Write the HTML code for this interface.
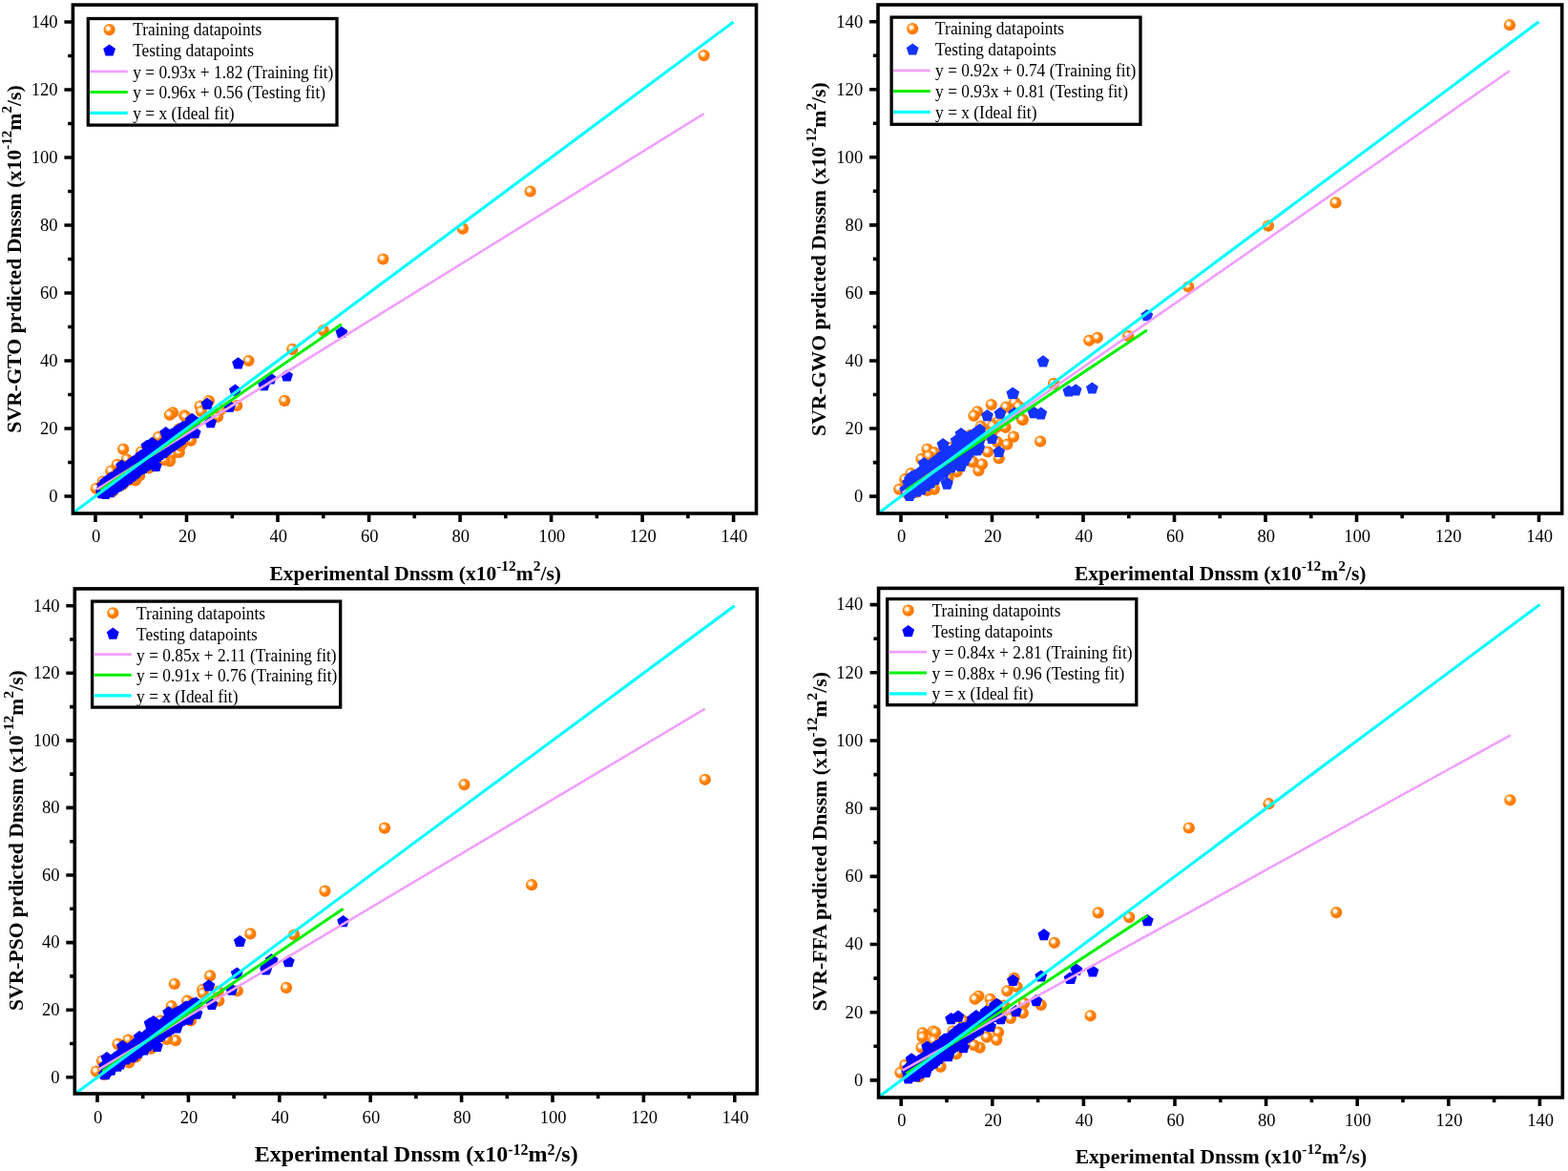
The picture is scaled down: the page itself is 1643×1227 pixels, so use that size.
<!DOCTYPE html>
<html lang="en"><head><meta charset="utf-8"><title>SVR predicted vs experimental Dnssm</title>
<style>
html,body{margin:0;padding:0;background:#fff;}
body{width:1643px;height:1227px;overflow:hidden;}
svg{display:block;font-family:"Liberation Serif", serif;}
text{fill:#000;}
.ax{fill:none;stroke:#000;stroke-width:3.6;stroke-linecap:butt;}
.tk{stroke:#000;stroke-width:3.6;fill:none;}
.tl{font-size:18px;}
.lg{font-size:17.4px;}
.at{font-weight:bold;}
</style></head><body>
<svg width="1643" height="1227" viewBox="0 0 1643 1227">
<defs>
<radialGradient id="og" cx="0.39" cy="0.39" r="0.62" fx="0.39" fy="0.39">
<stop offset="0" stop-color="#ffffff"/>
<stop offset="0.22" stop-color="#fff4e6"/>
<stop offset="0.42" stop-color="#ff9a30"/>
<stop offset="0.6" stop-color="#ff7f00"/>
<stop offset="1" stop-color="#fb7400"/>
</radialGradient>
</defs>
<rect x="0" y="0" width="1643" height="1227" fill="#ffffff"/>

<g id="panel-GTO">
<g fill="url(#og)">
<circle cx="737.6" cy="58.1" r="6.1"/>
<circle cx="555.6" cy="200.5" r="6.1"/>
<circle cx="484.9" cy="239.6" r="6.1"/>
<circle cx="401.4" cy="271.5" r="6.1"/>
<circle cx="338.8" cy="346.1" r="6.1"/>
<circle cx="306.3" cy="365.9" r="6.1"/>
<circle cx="298.2" cy="419.9" r="6.1"/>
<circle cx="260.5" cy="378.0" r="6.1"/>
<circle cx="107.2" cy="514.9" r="6.1"/>
<circle cx="110.0" cy="512.2" r="6.1"/>
<circle cx="112.9" cy="508.0" r="6.1"/>
<circle cx="115.8" cy="508.5" r="6.1"/>
<circle cx="118.6" cy="506.1" r="6.1"/>
<circle cx="121.5" cy="503.5" r="6.1"/>
<circle cx="124.4" cy="503.7" r="6.1"/>
<circle cx="127.2" cy="499.7" r="6.1"/>
<circle cx="130.1" cy="496.9" r="6.1"/>
<circle cx="133.0" cy="493.8" r="6.1"/>
<circle cx="135.8" cy="495.7" r="6.1"/>
<circle cx="138.7" cy="492.4" r="6.1"/>
<circle cx="141.6" cy="491.4" r="6.1"/>
<circle cx="144.4" cy="485.2" r="6.1"/>
<circle cx="147.3" cy="483.8" r="6.1"/>
<circle cx="150.1" cy="485.3" r="6.1"/>
<circle cx="153.0" cy="477.9" r="6.1"/>
<circle cx="155.9" cy="475.8" r="6.1"/>
<circle cx="158.7" cy="475.5" r="6.1"/>
<circle cx="161.6" cy="473.5" r="6.1"/>
<circle cx="164.5" cy="474.0" r="6.1"/>
<circle cx="167.3" cy="472.7" r="6.1"/>
<circle cx="170.2" cy="467.7" r="6.1"/>
<circle cx="173.1" cy="468.2" r="6.1"/>
<circle cx="175.9" cy="465.3" r="6.1"/>
<circle cx="178.8" cy="462.9" r="6.1"/>
<circle cx="181.7" cy="462.0" r="6.1"/>
<circle cx="184.5" cy="457.4" r="6.1"/>
<circle cx="187.4" cy="455.4" r="6.1"/>
<circle cx="190.3" cy="451.0" r="6.1"/>
<circle cx="193.1" cy="450.7" r="6.1"/>
<circle cx="196.0" cy="447.8" r="6.1"/>
<circle cx="198.9" cy="446.5" r="6.1"/>
<circle cx="201.7" cy="443.5" r="6.1"/>
<circle cx="204.6" cy="442.5" r="6.1"/>
<circle cx="129.1" cy="470.6" r="6.1"/>
<circle cx="132.8" cy="481.3" r="6.1"/>
<circle cx="122.7" cy="486.8" r="6.1"/>
<circle cx="116.3" cy="493.5" r="6.1"/>
<circle cx="107.7" cy="504.5" r="6.1"/>
<circle cx="100.7" cy="511.8" r="6.1"/>
<circle cx="117.8" cy="515.2" r="6.1"/>
<circle cx="142.0" cy="503.3" r="6.1"/>
<circle cx="146.2" cy="498.4" r="6.1"/>
<circle cx="128.5" cy="507.6" r="6.1"/>
<circle cx="136.5" cy="502.7" r="6.1"/>
<circle cx="166.1" cy="457.8" r="6.1"/>
<circle cx="148.1" cy="473.3" r="6.1"/>
<circle cx="180.5" cy="475.8" r="6.1"/>
<circle cx="178.0" cy="483.1" r="6.1"/>
<circle cx="187.8" cy="473.9" r="6.1"/>
<circle cx="172.5" cy="481.9" r="6.1"/>
<circle cx="156.0" cy="490.5" r="6.1"/>
<circle cx="189.0" cy="467.2" r="6.1"/>
<circle cx="181.0" cy="432.3" r="6.1"/>
<circle cx="177.9" cy="434.7" r="6.1"/>
<circle cx="193.2" cy="435.3" r="6.1"/>
<circle cx="194.4" cy="436.6" r="6.1"/>
<circle cx="218.9" cy="420.1" r="6.1"/>
<circle cx="209.7" cy="425.6" r="6.1"/>
<circle cx="211.0" cy="431.1" r="6.1"/>
<circle cx="248.2" cy="425.0" r="6.1"/>
<circle cx="228.1" cy="436.6" r="6.1"/>
<circle cx="231.1" cy="429.2" r="6.1"/>
<circle cx="200.0" cy="461.6" r="6.1"/>
<circle cx="191.4" cy="464.1" r="6.1"/>
<circle cx="187.7" cy="449.4" r="6.1"/>
</g>
<path fill="#0000ff" d="M357.9 341.9l6.4 4.7-2.45 7.5h-7.9l-2.45-7.5zM249.5 374.2l6.4 4.7-2.45 7.5h-7.9l-2.45-7.5zM300.6 387.4l6.4 4.7-2.45 7.5h-7.9l-2.45-7.5zM283.4 390.2l6.4 4.7-2.45 7.5h-7.9l-2.45-7.5zM276.7 397.0l6.4 4.7-2.45 7.5h-7.9l-2.45-7.5zM106.7 508.7l6.4 4.7-2.45 7.5h-7.9l-2.45-7.5zM107.6 506.0l6.4 4.7-2.45 7.5h-7.9l-2.45-7.5zM108.6 505.2l6.4 4.7-2.45 7.5h-7.9l-2.45-7.5zM109.6 510.1l6.4 4.7-2.45 7.5h-7.9l-2.45-7.5zM110.5 510.8l6.4 4.7-2.45 7.5h-7.9l-2.45-7.5zM111.5 506.2l6.4 4.7-2.45 7.5h-7.9l-2.45-7.5zM112.4 506.6l6.4 4.7-2.45 7.5h-7.9l-2.45-7.5zM113.4 500.2l6.4 4.7-2.45 7.5h-7.9l-2.45-7.5zM114.3 500.7l6.4 4.7-2.45 7.5h-7.9l-2.45-7.5zM115.3 501.0l6.4 4.7-2.45 7.5h-7.9l-2.45-7.5zM116.2 500.7l6.4 4.7-2.45 7.5h-7.9l-2.45-7.5zM117.2 498.9l6.4 4.7-2.45 7.5h-7.9l-2.45-7.5zM118.1 503.7l6.4 4.7-2.45 7.5h-7.9l-2.45-7.5zM119.1 499.8l6.4 4.7-2.45 7.5h-7.9l-2.45-7.5zM120.1 502.1l6.4 4.7-2.45 7.5h-7.9l-2.45-7.5zM121.0 493.5l6.4 4.7-2.45 7.5h-7.9l-2.45-7.5zM122.0 501.8l6.4 4.7-2.45 7.5h-7.9l-2.45-7.5zM122.9 493.0l6.4 4.7-2.45 7.5h-7.9l-2.45-7.5zM123.9 500.2l6.4 4.7-2.45 7.5h-7.9l-2.45-7.5zM124.8 492.9l6.4 4.7-2.45 7.5h-7.9l-2.45-7.5zM125.8 496.0l6.4 4.7-2.45 7.5h-7.9l-2.45-7.5zM126.7 494.5l6.4 4.7-2.45 7.5h-7.9l-2.45-7.5zM127.7 489.2l6.4 4.7-2.45 7.5h-7.9l-2.45-7.5zM128.7 497.2l6.4 4.7-2.45 7.5h-7.9l-2.45-7.5zM129.6 496.1l6.4 4.7-2.45 7.5h-7.9l-2.45-7.5zM130.6 486.3l6.4 4.7-2.45 7.5h-7.9l-2.45-7.5zM131.5 489.9l6.4 4.7-2.45 7.5h-7.9l-2.45-7.5zM132.5 493.6l6.4 4.7-2.45 7.5h-7.9l-2.45-7.5zM133.4 483.4l6.4 4.7-2.45 7.5h-7.9l-2.45-7.5zM134.4 483.1l6.4 4.7-2.45 7.5h-7.9l-2.45-7.5zM135.3 491.3l6.4 4.7-2.45 7.5h-7.9l-2.45-7.5zM136.3 487.2l6.4 4.7-2.45 7.5h-7.9l-2.45-7.5zM137.3 489.6l6.4 4.7-2.45 7.5h-7.9l-2.45-7.5zM138.2 487.0l6.4 4.7-2.45 7.5h-7.9l-2.45-7.5zM139.2 483.0l6.4 4.7-2.45 7.5h-7.9l-2.45-7.5zM140.1 487.2l6.4 4.7-2.45 7.5h-7.9l-2.45-7.5zM141.1 480.8l6.4 4.7-2.45 7.5h-7.9l-2.45-7.5zM142.0 486.9l6.4 4.7-2.45 7.5h-7.9l-2.45-7.5zM143.0 485.0l6.4 4.7-2.45 7.5h-7.9l-2.45-7.5zM143.9 477.4l6.4 4.7-2.45 7.5h-7.9l-2.45-7.5zM144.9 481.1l6.4 4.7-2.45 7.5h-7.9l-2.45-7.5zM145.8 480.2l6.4 4.7-2.45 7.5h-7.9l-2.45-7.5zM146.8 477.6l6.4 4.7-2.45 7.5h-7.9l-2.45-7.5zM147.8 478.1l6.4 4.7-2.45 7.5h-7.9l-2.45-7.5zM148.7 478.4l6.4 4.7-2.45 7.5h-7.9l-2.45-7.5zM149.7 481.5l6.4 4.7-2.45 7.5h-7.9l-2.45-7.5zM150.6 473.4l6.4 4.7-2.45 7.5h-7.9l-2.45-7.5zM151.6 470.1l6.4 4.7-2.45 7.5h-7.9l-2.45-7.5zM152.5 469.3l6.4 4.7-2.45 7.5h-7.9l-2.45-7.5zM153.5 471.9l6.4 4.7-2.45 7.5h-7.9l-2.45-7.5zM154.4 474.5l6.4 4.7-2.45 7.5h-7.9l-2.45-7.5zM155.4 473.7l6.4 4.7-2.45 7.5h-7.9l-2.45-7.5zM156.4 469.5l6.4 4.7-2.45 7.5h-7.9l-2.45-7.5zM157.3 468.9l6.4 4.7-2.45 7.5h-7.9l-2.45-7.5zM158.3 474.2l6.4 4.7-2.45 7.5h-7.9l-2.45-7.5zM159.2 472.2l6.4 4.7-2.45 7.5h-7.9l-2.45-7.5zM160.2 470.1l6.4 4.7-2.45 7.5h-7.9l-2.45-7.5zM161.1 467.8l6.4 4.7-2.45 7.5h-7.9l-2.45-7.5zM162.1 463.9l6.4 4.7-2.45 7.5h-7.9l-2.45-7.5zM163.0 466.5l6.4 4.7-2.45 7.5h-7.9l-2.45-7.5zM164.0 470.9l6.4 4.7-2.45 7.5h-7.9l-2.45-7.5zM165.0 461.7l6.4 4.7-2.45 7.5h-7.9l-2.45-7.5zM165.9 465.2l6.4 4.7-2.45 7.5h-7.9l-2.45-7.5zM166.9 463.5l6.4 4.7-2.45 7.5h-7.9l-2.45-7.5zM167.8 465.9l6.4 4.7-2.45 7.5h-7.9l-2.45-7.5zM168.8 463.1l6.4 4.7-2.45 7.5h-7.9l-2.45-7.5zM169.7 462.8l6.4 4.7-2.45 7.5h-7.9l-2.45-7.5zM170.7 458.0l6.4 4.7-2.45 7.5h-7.9l-2.45-7.5zM171.6 464.4l6.4 4.7-2.45 7.5h-7.9l-2.45-7.5zM172.6 458.9l6.4 4.7-2.45 7.5h-7.9l-2.45-7.5zM173.6 462.2l6.4 4.7-2.45 7.5h-7.9l-2.45-7.5zM174.5 455.9l6.4 4.7-2.45 7.5h-7.9l-2.45-7.5zM175.5 462.2l6.4 4.7-2.45 7.5h-7.9l-2.45-7.5zM176.4 459.0l6.4 4.7-2.45 7.5h-7.9l-2.45-7.5zM177.4 457.5l6.4 4.7-2.45 7.5h-7.9l-2.45-7.5zM178.3 453.7l6.4 4.7-2.45 7.5h-7.9l-2.45-7.5zM179.3 459.2l6.4 4.7-2.45 7.5h-7.9l-2.45-7.5zM180.2 454.2l6.4 4.7-2.45 7.5h-7.9l-2.45-7.5zM181.2 456.2l6.4 4.7-2.45 7.5h-7.9l-2.45-7.5zM182.1 454.7l6.4 4.7-2.45 7.5h-7.9l-2.45-7.5zM183.1 451.9l6.4 4.7-2.45 7.5h-7.9l-2.45-7.5zM184.1 446.0l6.4 4.7-2.45 7.5h-7.9l-2.45-7.5zM185.0 450.4l6.4 4.7-2.45 7.5h-7.9l-2.45-7.5zM186.0 444.6l6.4 4.7-2.45 7.5h-7.9l-2.45-7.5zM186.9 452.3l6.4 4.7-2.45 7.5h-7.9l-2.45-7.5zM187.9 443.6l6.4 4.7-2.45 7.5h-7.9l-2.45-7.5zM188.8 448.8l6.4 4.7-2.45 7.5h-7.9l-2.45-7.5zM189.8 450.0l6.4 4.7-2.45 7.5h-7.9l-2.45-7.5zM190.7 443.3l6.4 4.7-2.45 7.5h-7.9l-2.45-7.5zM191.7 440.9l6.4 4.7-2.45 7.5h-7.9l-2.45-7.5zM192.7 449.8l6.4 4.7-2.45 7.5h-7.9l-2.45-7.5zM193.6 446.3l6.4 4.7-2.45 7.5h-7.9l-2.45-7.5zM194.6 440.2l6.4 4.7-2.45 7.5h-7.9l-2.45-7.5zM195.5 444.1l6.4 4.7-2.45 7.5h-7.9l-2.45-7.5zM196.5 444.4l6.4 4.7-2.45 7.5h-7.9l-2.45-7.5zM197.4 446.2l6.4 4.7-2.45 7.5h-7.9l-2.45-7.5zM198.4 445.2l6.4 4.7-2.45 7.5h-7.9l-2.45-7.5zM199.3 438.3l6.4 4.7-2.45 7.5h-7.9l-2.45-7.5zM200.3 433.7l6.4 4.7-2.45 7.5h-7.9l-2.45-7.5zM201.3 432.8l6.4 4.7-2.45 7.5h-7.9l-2.45-7.5zM202.2 437.4l6.4 4.7-2.45 7.5h-7.9l-2.45-7.5zM115.3 509.1l6.4 4.7-2.45 7.5h-7.9l-2.45-7.5zM117.4 506.9l6.4 4.7-2.45 7.5h-7.9l-2.45-7.5zM119.6 505.3l6.4 4.7-2.45 7.5h-7.9l-2.45-7.5zM121.7 503.5l6.4 4.7-2.45 7.5h-7.9l-2.45-7.5zM123.9 502.8l6.4 4.7-2.45 7.5h-7.9l-2.45-7.5zM126.0 501.2l6.4 4.7-2.45 7.5h-7.9l-2.45-7.5zM128.2 499.7l6.4 4.7-2.45 7.5h-7.9l-2.45-7.5zM130.3 498.0l6.4 4.7-2.45 7.5h-7.9l-2.45-7.5zM132.5 495.7l6.4 4.7-2.45 7.5h-7.9l-2.45-7.5zM134.6 494.9l6.4 4.7-2.45 7.5h-7.9l-2.45-7.5zM136.8 492.8l6.4 4.7-2.45 7.5h-7.9l-2.45-7.5zM138.9 491.6l6.4 4.7-2.45 7.5h-7.9l-2.45-7.5zM141.1 489.9l6.4 4.7-2.45 7.5h-7.9l-2.45-7.5zM143.2 488.1l6.4 4.7-2.45 7.5h-7.9l-2.45-7.5zM145.4 485.9l6.4 4.7-2.45 7.5h-7.9l-2.45-7.5zM147.5 484.7l6.4 4.7-2.45 7.5h-7.9l-2.45-7.5zM149.7 483.9l6.4 4.7-2.45 7.5h-7.9l-2.45-7.5zM151.8 481.9l6.4 4.7-2.45 7.5h-7.9l-2.45-7.5zM154.0 480.5l6.4 4.7-2.45 7.5h-7.9l-2.45-7.5zM156.1 477.9l6.4 4.7-2.45 7.5h-7.9l-2.45-7.5zM158.3 476.4l6.4 4.7-2.45 7.5h-7.9l-2.45-7.5zM160.4 474.8l6.4 4.7-2.45 7.5h-7.9l-2.45-7.5zM162.6 473.2l6.4 4.7-2.45 7.5h-7.9l-2.45-7.5zM164.7 471.7l6.4 4.7-2.45 7.5h-7.9l-2.45-7.5zM166.9 469.8l6.4 4.7-2.45 7.5h-7.9l-2.45-7.5zM169.0 468.4l6.4 4.7-2.45 7.5h-7.9l-2.45-7.5zM171.2 467.6l6.4 4.7-2.45 7.5h-7.9l-2.45-7.5zM173.3 465.2l6.4 4.7-2.45 7.5h-7.9l-2.45-7.5zM175.5 464.1l6.4 4.7-2.45 7.5h-7.9l-2.45-7.5zM177.6 462.1l6.4 4.7-2.45 7.5h-7.9l-2.45-7.5zM179.8 460.8l6.4 4.7-2.45 7.5h-7.9l-2.45-7.5zM181.9 459.4l6.4 4.7-2.45 7.5h-7.9l-2.45-7.5zM184.1 457.9l6.4 4.7-2.45 7.5h-7.9l-2.45-7.5zM186.2 456.2l6.4 4.7-2.45 7.5h-7.9l-2.45-7.5zM188.4 454.7l6.4 4.7-2.45 7.5h-7.9l-2.45-7.5zM190.5 453.4l6.4 4.7-2.45 7.5h-7.9l-2.45-7.5zM192.7 450.8l6.4 4.7-2.45 7.5h-7.9l-2.45-7.5zM194.8 449.3l6.4 4.7-2.45 7.5h-7.9l-2.45-7.5zM197.0 447.4l6.4 4.7-2.45 7.5h-7.9l-2.45-7.5zM107.6 502.2l6.4 4.7-2.45 7.5h-7.9l-2.45-7.5zM110.5 499.0l6.4 4.7-2.45 7.5h-7.9l-2.45-7.5zM113.4 497.0l6.4 4.7-2.45 7.5h-7.9l-2.45-7.5zM116.2 494.3l6.4 4.7-2.45 7.5h-7.9l-2.45-7.5zM119.1 493.4l6.4 4.7-2.45 7.5h-7.9l-2.45-7.5zM122.0 491.3l6.4 4.7-2.45 7.5h-7.9l-2.45-7.5zM124.8 488.3l6.4 4.7-2.45 7.5h-7.9l-2.45-7.5zM127.7 486.3l6.4 4.7-2.45 7.5h-7.9l-2.45-7.5zM130.6 484.8l6.4 4.7-2.45 7.5h-7.9l-2.45-7.5zM133.4 482.0l6.4 4.7-2.45 7.5h-7.9l-2.45-7.5zM136.3 480.4l6.4 4.7-2.45 7.5h-7.9l-2.45-7.5zM139.2 477.6l6.4 4.7-2.45 7.5h-7.9l-2.45-7.5zM142.0 476.6l6.4 4.7-2.45 7.5h-7.9l-2.45-7.5zM144.9 474.3l6.4 4.7-2.45 7.5h-7.9l-2.45-7.5zM147.8 471.0l6.4 4.7-2.45 7.5h-7.9l-2.45-7.5zM150.6 469.8l6.4 4.7-2.45 7.5h-7.9l-2.45-7.5zM153.5 467.9l6.4 4.7-2.45 7.5h-7.9l-2.45-7.5zM156.4 464.8l6.4 4.7-2.45 7.5h-7.9l-2.45-7.5zM159.2 462.9l6.4 4.7-2.45 7.5h-7.9l-2.45-7.5zM162.1 461.7l6.4 4.7-2.45 7.5h-7.9l-2.45-7.5zM106.6 510.1l6.4 4.7-2.45 7.5h-7.9l-2.45-7.5zM163.3 481.7l6.4 4.7-2.45 7.5h-7.9l-2.45-7.5zM111.4 497.7l6.4 4.7-2.45 7.5h-7.9l-2.45-7.5zM127.6 481.5l6.4 4.7-2.45 7.5h-7.9l-2.45-7.5zM145.0 473.8l6.4 4.7-2.45 7.5h-7.9l-2.45-7.5zM153.9 460.7l6.4 4.7-2.45 7.5h-7.9l-2.45-7.5zM159.4 457.8l6.4 4.7-2.45 7.5h-7.9l-2.45-7.5zM217.1 416.8l6.4 4.7-2.45 7.5h-7.9l-2.45-7.5zM246.4 402.5l6.4 4.7-2.45 7.5h-7.9l-2.45-7.5zM240.6 419.6l6.4 4.7-2.45 7.5h-7.9l-2.45-7.5zM220.7 436.1l6.4 4.7-2.45 7.5h-7.9l-2.45-7.5zM204.2 434.9l6.4 4.7-2.45 7.5h-7.9l-2.45-7.5zM194.4 441.6l6.4 4.7-2.45 7.5h-7.9l-2.45-7.5zM204.2 447.1l6.4 4.7-2.45 7.5h-7.9l-2.45-7.5zM173.7 447.1l6.4 4.7-2.45 7.5h-7.9l-2.45-7.5zM179.2 448.9l6.4 4.7-2.45 7.5h-7.9l-2.45-7.5z"/>
<line x1="101.4" y1="512.8" x2="737.6" y2="119.2" stroke="#f0a0ff" stroke-width="2.6"/>
<line x1="105.3" y1="513.7" x2="357.9" y2="339.7" stroke="#00f000" stroke-width="3.0"/>
<line x1="76.1" y1="537.8" x2="768.6" y2="23.0" stroke="#00ffff" stroke-width="3.1"/>
<rect class="ax" x="76.4" y="5.1" width="716.1" height="532.9"/>
<path class="tk" d="M100.0 538.0v9.0M76.4 520.0h-9.0M147.8 538.0v5.2M76.4 484.5h-5.2M195.5 538.0v9.0M76.4 449.0h-9.0M243.3 538.0v5.2M76.4 413.5h-5.2M291.0 538.0v9.0M76.4 378.0h-9.0M338.8 538.0v5.2M76.4 342.5h-5.2M386.6 538.0v9.0M76.4 307.0h-9.0M434.3 538.0v5.2M76.4 271.5h-5.2M482.1 538.0v9.0M76.4 236.0h-9.0M529.8 538.0v5.2M76.4 200.5h-5.2M577.6 538.0v9.0M76.4 165.0h-9.0M625.4 538.0v5.2M76.4 129.5h-5.2M673.1 538.0v9.0M76.4 94.0h-9.0M720.9 538.0v5.2M76.4 58.5h-5.2M768.6 538.0v9.0M76.4 23.0h-9.0"/>
<g class="tl" style="font-size:18.6px">
<text transform="translate(100.7 567.6) scale(1 1.06)" text-anchor="middle">0</text>
<text transform="translate(196.2 567.6) scale(1 1.06)" text-anchor="middle">20</text>
<text transform="translate(291.7 567.6) scale(1 1.06)" text-anchor="middle">40</text>
<text transform="translate(387.3 567.6) scale(1 1.06)" text-anchor="middle">60</text>
<text transform="translate(482.8 567.6) scale(1 1.06)" text-anchor="middle">80</text>
<text transform="translate(578.3 567.6) scale(1 1.06)" text-anchor="middle">100</text>
<text transform="translate(673.8 567.6) scale(1 1.06)" text-anchor="middle">120</text>
<text transform="translate(769.3 567.6) scale(1 1.06)" text-anchor="middle">140</text>
<text transform="translate(60.6 525.8) scale(1 1.06)" text-anchor="end">0</text>
<text transform="translate(60.6 454.8) scale(1 1.06)" text-anchor="end">20</text>
<text transform="translate(60.6 383.8) scale(1 1.06)" text-anchor="end">40</text>
<text transform="translate(60.6 312.8) scale(1 1.06)" text-anchor="end">60</text>
<text transform="translate(60.6 241.8) scale(1 1.06)" text-anchor="end">80</text>
<text transform="translate(60.6 170.8) scale(1 1.06)" text-anchor="end">100</text>
<text transform="translate(60.6 99.8) scale(1 1.06)" text-anchor="end">120</text>
<text transform="translate(60.6 28.8) scale(1 1.06)" text-anchor="end">140</text>
</g>
<text class="at" font-size="21.5" x="435.2" y="607.6" text-anchor="middle">Experimental Dnssm (x10<tspan font-size="15.48" dy="-9.68">-12</tspan><tspan dy="9.68">m</tspan><tspan font-size="15.48" dy="-9.68">2</tspan><tspan dy="9.68">/s)</tspan></text>
<text class="at" font-size="21.8" transform="translate(21.7 271.5) rotate(-90) scale(1 1.0)" text-anchor="middle">SVR-GTO prdicted Dnssm (x10<tspan font-size="15.04" dy="-9.81">-12</tspan><tspan dy="9.81">m</tspan><tspan font-size="15.04" dy="-9.81">2</tspan><tspan dy="9.81">/s)</tspan></text>
<rect x="92.3" y="19.5" width="260.7" height="111.6" fill="#fff" stroke="#000" stroke-width="3.3"/>
<circle cx="114.6" cy="31.1" r="6.1" fill="url(#og)"/>
<path fill="#0000ff" d="M114.6 46.4l6.4 4.7-2.45 7.5h-7.9l-2.45-7.5z"/>
<line x1="94.3" y1="74.9" x2="133.8" y2="74.9" stroke="#f0a0ff" stroke-width="2.6"/>
<line x1="94.3" y1="96.5" x2="133.8" y2="96.5" stroke="#00f000" stroke-width="3.0"/>
<line x1="94.3" y1="118.4" x2="133.8" y2="118.4" stroke="#00ffff" stroke-width="3.1"/>
<g class="lg">
<text transform="translate(139.2 37.4) scale(1 1.07)">Training datapoints</text>
<text transform="translate(139.2 59.2) scale(1 1.07)">Testing datapoints</text>
<text transform="translate(139.2 81.5) scale(1 1.07)">y = 0.93x + 1.82 (Training fit)</text>
<text transform="translate(139.2 102.8) scale(1 1.07)">y = 0.96x + 0.56 (Testing fit)</text>
<text transform="translate(139.2 124.7) scale(1 1.07)">y = x (Ideal fit)</text>
</g>
</g>
<g id="panel-GWO">
<g fill="url(#og)">
<circle cx="1581.9" cy="26.2" r="6.1"/>
<circle cx="1399.5" cy="212.4" r="6.1"/>
<circle cx="1328.9" cy="236.6" r="6.1"/>
<circle cx="1245.3" cy="300.5" r="6.1"/>
<circle cx="951.2" cy="517.6" r="6.1"/>
<circle cx="953.5" cy="511.4" r="6.1"/>
<circle cx="955.9" cy="510.1" r="6.1"/>
<circle cx="958.3" cy="509.6" r="6.1"/>
<circle cx="960.7" cy="510.1" r="6.1"/>
<circle cx="963.1" cy="503.4" r="6.1"/>
<circle cx="965.5" cy="501.5" r="6.1"/>
<circle cx="967.9" cy="502.2" r="6.1"/>
<circle cx="970.3" cy="500.5" r="6.1"/>
<circle cx="972.6" cy="501.0" r="6.1"/>
<circle cx="975.0" cy="501.2" r="6.1"/>
<circle cx="977.4" cy="496.3" r="6.1"/>
<circle cx="979.8" cy="492.7" r="6.1"/>
<circle cx="982.2" cy="495.3" r="6.1"/>
<circle cx="984.6" cy="487.4" r="6.1"/>
<circle cx="987.0" cy="490.4" r="6.1"/>
<circle cx="989.4" cy="488.6" r="6.1"/>
<circle cx="991.8" cy="488.5" r="6.1"/>
<circle cx="994.1" cy="478.6" r="6.1"/>
<circle cx="996.5" cy="479.0" r="6.1"/>
<circle cx="998.9" cy="476.0" r="6.1"/>
<circle cx="1001.3" cy="476.5" r="6.1"/>
<circle cx="1003.7" cy="479.7" r="6.1"/>
<circle cx="1006.1" cy="475.4" r="6.1"/>
<circle cx="1008.5" cy="472.2" r="6.1"/>
<circle cx="1010.9" cy="473.6" r="6.1"/>
<circle cx="1013.2" cy="464.7" r="6.1"/>
<circle cx="1015.6" cy="467.9" r="6.1"/>
<circle cx="1018.0" cy="468.0" r="6.1"/>
<circle cx="1020.4" cy="460.5" r="6.1"/>
<circle cx="1022.8" cy="464.7" r="6.1"/>
<circle cx="1025.2" cy="456.0" r="6.1"/>
<circle cx="1027.6" cy="458.3" r="6.1"/>
<circle cx="1030.0" cy="455.7" r="6.1"/>
<circle cx="1032.3" cy="455.7" r="6.1"/>
<circle cx="1034.7" cy="452.7" r="6.1"/>
<circle cx="1037.1" cy="453.5" r="6.1"/>
<circle cx="1039.5" cy="453.0" r="6.1"/>
<circle cx="1041.9" cy="444.1" r="6.1"/>
<circle cx="1044.3" cy="447.7" r="6.1"/>
<circle cx="1046.7" cy="441.3" r="6.1"/>
<circle cx="1049.0" cy="444.4" r="6.1"/>
<circle cx="1038.8" cy="424.0" r="6.1"/>
<circle cx="1054.1" cy="426.5" r="6.1"/>
<circle cx="1063.9" cy="422.2" r="6.1"/>
<circle cx="1068.1" cy="426.5" r="6.1"/>
<circle cx="1024.1" cy="431.3" r="6.1"/>
<circle cx="1020.5" cy="435.6" r="6.1"/>
<circle cx="1071.8" cy="439.9" r="6.1"/>
<circle cx="1104.2" cy="402.0" r="6.1"/>
<circle cx="1040.0" cy="446.0" r="6.1"/>
<circle cx="1053.5" cy="447.8" r="6.1"/>
<circle cx="1027.8" cy="446.6" r="6.1"/>
<circle cx="1062.0" cy="457.6" r="6.1"/>
<circle cx="1055.3" cy="465.6" r="6.1"/>
<circle cx="1090.1" cy="462.5" r="6.1"/>
<circle cx="1046.7" cy="480.2" r="6.1"/>
<circle cx="1035.1" cy="473.5" r="6.1"/>
<circle cx="1044.9" cy="463.1" r="6.1"/>
<circle cx="1025.4" cy="493.1" r="6.1"/>
<circle cx="1029.0" cy="486.4" r="6.1"/>
<circle cx="1019.2" cy="483.9" r="6.1"/>
<circle cx="1002.7" cy="494.3" r="6.1"/>
<circle cx="971.6" cy="470.5" r="6.1"/>
<circle cx="978.9" cy="474.1" r="6.1"/>
<circle cx="965.5" cy="480.9" r="6.1"/>
<circle cx="973.4" cy="477.8" r="6.1"/>
<circle cx="942.2" cy="512.6" r="6.1"/>
<circle cx="978.9" cy="512.6" r="6.1"/>
<circle cx="960.6" cy="515.7" r="6.1"/>
<circle cx="971.6" cy="513.9" r="6.1"/>
<circle cx="1016.8" cy="455.8" r="6.1"/>
<circle cx="996.0" cy="469.2" r="6.1"/>
<circle cx="954.4" cy="496.1" r="6.1"/>
<circle cx="948.3" cy="502.2" r="6.1"/>
<circle cx="993.6" cy="501.0" r="6.1"/>
<circle cx="1141.3" cy="356.8" r="6.1"/>
<circle cx="1149.9" cy="353.8" r="6.1"/>
<circle cx="1182.2" cy="352.0" r="6.1"/>
<circle cx="1104.0" cy="402.1" r="6.1"/>
<circle cx="1063.1" cy="421.6" r="6.1"/>
<circle cx="1071.0" cy="439.4" r="6.1"/>
<circle cx="1067.3" cy="425.9" r="6.1"/>
</g>
<path fill="#1433ff" d="M951.6 499.2l6.4 4.7-2.45 7.5h-7.9l-2.45-7.5zM952.4 511.5l6.4 4.7-2.45 7.5h-7.9l-2.45-7.5zM953.1 512.8l6.4 4.7-2.45 7.5h-7.9l-2.45-7.5zM953.8 497.0l6.4 4.7-2.45 7.5h-7.9l-2.45-7.5zM954.5 509.2l6.4 4.7-2.45 7.5h-7.9l-2.45-7.5zM955.2 509.7l6.4 4.7-2.45 7.5h-7.9l-2.45-7.5zM955.9 500.8l6.4 4.7-2.45 7.5h-7.9l-2.45-7.5zM956.7 505.1l6.4 4.7-2.45 7.5h-7.9l-2.45-7.5zM957.4 496.0l6.4 4.7-2.45 7.5h-7.9l-2.45-7.5zM958.1 505.8l6.4 4.7-2.45 7.5h-7.9l-2.45-7.5zM958.8 493.9l6.4 4.7-2.45 7.5h-7.9l-2.45-7.5zM959.5 503.4l6.4 4.7-2.45 7.5h-7.9l-2.45-7.5zM960.2 498.4l6.4 4.7-2.45 7.5h-7.9l-2.45-7.5zM961.0 492.7l6.4 4.7-2.45 7.5h-7.9l-2.45-7.5zM961.7 496.0l6.4 4.7-2.45 7.5h-7.9l-2.45-7.5zM962.4 491.8l6.4 4.7-2.45 7.5h-7.9l-2.45-7.5zM963.1 494.6l6.4 4.7-2.45 7.5h-7.9l-2.45-7.5zM963.8 504.4l6.4 4.7-2.45 7.5h-7.9l-2.45-7.5zM964.5 490.8l6.4 4.7-2.45 7.5h-7.9l-2.45-7.5zM965.2 494.9l6.4 4.7-2.45 7.5h-7.9l-2.45-7.5zM966.0 498.7l6.4 4.7-2.45 7.5h-7.9l-2.45-7.5zM966.7 500.0l6.4 4.7-2.45 7.5h-7.9l-2.45-7.5zM967.4 489.2l6.4 4.7-2.45 7.5h-7.9l-2.45-7.5zM968.1 492.8l6.4 4.7-2.45 7.5h-7.9l-2.45-7.5zM968.8 486.8l6.4 4.7-2.45 7.5h-7.9l-2.45-7.5zM969.5 488.8l6.4 4.7-2.45 7.5h-7.9l-2.45-7.5zM970.3 485.3l6.4 4.7-2.45 7.5h-7.9l-2.45-7.5zM971.0 491.0l6.4 4.7-2.45 7.5h-7.9l-2.45-7.5zM971.7 488.4l6.4 4.7-2.45 7.5h-7.9l-2.45-7.5zM972.4 489.2l6.4 4.7-2.45 7.5h-7.9l-2.45-7.5zM973.1 494.2l6.4 4.7-2.45 7.5h-7.9l-2.45-7.5zM973.8 482.7l6.4 4.7-2.45 7.5h-7.9l-2.45-7.5zM974.6 492.3l6.4 4.7-2.45 7.5h-7.9l-2.45-7.5zM975.3 484.4l6.4 4.7-2.45 7.5h-7.9l-2.45-7.5zM976.0 481.2l6.4 4.7-2.45 7.5h-7.9l-2.45-7.5zM976.7 485.4l6.4 4.7-2.45 7.5h-7.9l-2.45-7.5zM977.4 492.8l6.4 4.7-2.45 7.5h-7.9l-2.45-7.5zM978.1 481.6l6.4 4.7-2.45 7.5h-7.9l-2.45-7.5zM978.9 483.5l6.4 4.7-2.45 7.5h-7.9l-2.45-7.5zM979.6 490.5l6.4 4.7-2.45 7.5h-7.9l-2.45-7.5zM980.3 492.1l6.4 4.7-2.45 7.5h-7.9l-2.45-7.5zM981.0 484.0l6.4 4.7-2.45 7.5h-7.9l-2.45-7.5zM981.7 491.3l6.4 4.7-2.45 7.5h-7.9l-2.45-7.5zM982.4 476.8l6.4 4.7-2.45 7.5h-7.9l-2.45-7.5zM983.2 482.8l6.4 4.7-2.45 7.5h-7.9l-2.45-7.5zM983.9 482.1l6.4 4.7-2.45 7.5h-7.9l-2.45-7.5zM984.6 483.3l6.4 4.7-2.45 7.5h-7.9l-2.45-7.5zM985.3 478.8l6.4 4.7-2.45 7.5h-7.9l-2.45-7.5zM986.0 474.3l6.4 4.7-2.45 7.5h-7.9l-2.45-7.5zM986.7 483.3l6.4 4.7-2.45 7.5h-7.9l-2.45-7.5zM987.5 481.7l6.4 4.7-2.45 7.5h-7.9l-2.45-7.5zM988.2 477.9l6.4 4.7-2.45 7.5h-7.9l-2.45-7.5zM988.9 481.8l6.4 4.7-2.45 7.5h-7.9l-2.45-7.5zM989.6 476.7l6.4 4.7-2.45 7.5h-7.9l-2.45-7.5zM990.3 476.9l6.4 4.7-2.45 7.5h-7.9l-2.45-7.5zM991.0 478.1l6.4 4.7-2.45 7.5h-7.9l-2.45-7.5zM991.8 473.8l6.4 4.7-2.45 7.5h-7.9l-2.45-7.5zM992.5 475.6l6.4 4.7-2.45 7.5h-7.9l-2.45-7.5zM993.2 481.9l6.4 4.7-2.45 7.5h-7.9l-2.45-7.5zM993.9 467.2l6.4 4.7-2.45 7.5h-7.9l-2.45-7.5zM994.6 476.7l6.4 4.7-2.45 7.5h-7.9l-2.45-7.5zM995.3 475.0l6.4 4.7-2.45 7.5h-7.9l-2.45-7.5zM996.0 474.9l6.4 4.7-2.45 7.5h-7.9l-2.45-7.5zM996.8 466.1l6.4 4.7-2.45 7.5h-7.9l-2.45-7.5zM997.5 465.2l6.4 4.7-2.45 7.5h-7.9l-2.45-7.5zM998.2 471.6l6.4 4.7-2.45 7.5h-7.9l-2.45-7.5zM998.9 472.8l6.4 4.7-2.45 7.5h-7.9l-2.45-7.5zM999.6 477.0l6.4 4.7-2.45 7.5h-7.9l-2.45-7.5zM1000.3 464.0l6.4 4.7-2.45 7.5h-7.9l-2.45-7.5zM1001.1 474.8l6.4 4.7-2.45 7.5h-7.9l-2.45-7.5zM1001.8 468.4l6.4 4.7-2.45 7.5h-7.9l-2.45-7.5zM1002.5 470.9l6.4 4.7-2.45 7.5h-7.9l-2.45-7.5zM1003.2 470.7l6.4 4.7-2.45 7.5h-7.9l-2.45-7.5zM1003.9 469.7l6.4 4.7-2.45 7.5h-7.9l-2.45-7.5zM1004.6 471.8l6.4 4.7-2.45 7.5h-7.9l-2.45-7.5zM1005.4 473.7l6.4 4.7-2.45 7.5h-7.9l-2.45-7.5zM1006.1 465.3l6.4 4.7-2.45 7.5h-7.9l-2.45-7.5zM1006.8 460.7l6.4 4.7-2.45 7.5h-7.9l-2.45-7.5zM1007.5 462.5l6.4 4.7-2.45 7.5h-7.9l-2.45-7.5zM1008.2 469.0l6.4 4.7-2.45 7.5h-7.9l-2.45-7.5zM1008.9 460.7l6.4 4.7-2.45 7.5h-7.9l-2.45-7.5zM1009.7 470.2l6.4 4.7-2.45 7.5h-7.9l-2.45-7.5zM1010.4 464.1l6.4 4.7-2.45 7.5h-7.9l-2.45-7.5zM1011.1 457.0l6.4 4.7-2.45 7.5h-7.9l-2.45-7.5zM1011.8 455.0l6.4 4.7-2.45 7.5h-7.9l-2.45-7.5zM1012.5 461.7l6.4 4.7-2.45 7.5h-7.9l-2.45-7.5zM1013.2 455.1l6.4 4.7-2.45 7.5h-7.9l-2.45-7.5zM1014.0 460.1l6.4 4.7-2.45 7.5h-7.9l-2.45-7.5zM1014.7 459.1l6.4 4.7-2.45 7.5h-7.9l-2.45-7.5zM1015.4 457.6l6.4 4.7-2.45 7.5h-7.9l-2.45-7.5zM1016.1 450.7l6.4 4.7-2.45 7.5h-7.9l-2.45-7.5zM1016.8 454.1l6.4 4.7-2.45 7.5h-7.9l-2.45-7.5zM1017.5 457.8l6.4 4.7-2.45 7.5h-7.9l-2.45-7.5zM1018.3 453.3l6.4 4.7-2.45 7.5h-7.9l-2.45-7.5zM1019.0 454.1l6.4 4.7-2.45 7.5h-7.9l-2.45-7.5zM1019.7 458.0l6.4 4.7-2.45 7.5h-7.9l-2.45-7.5zM1020.4 450.8l6.4 4.7-2.45 7.5h-7.9l-2.45-7.5zM1021.1 449.7l6.4 4.7-2.45 7.5h-7.9l-2.45-7.5zM1021.8 452.5l6.4 4.7-2.45 7.5h-7.9l-2.45-7.5zM1022.5 446.7l6.4 4.7-2.45 7.5h-7.9l-2.45-7.5zM1023.3 460.6l6.4 4.7-2.45 7.5h-7.9l-2.45-7.5zM1024.0 452.6l6.4 4.7-2.45 7.5h-7.9l-2.45-7.5zM1024.7 449.9l6.4 4.7-2.45 7.5h-7.9l-2.45-7.5zM1025.4 454.0l6.4 4.7-2.45 7.5h-7.9l-2.45-7.5zM1026.1 456.1l6.4 4.7-2.45 7.5h-7.9l-2.45-7.5zM1026.8 447.4l6.4 4.7-2.45 7.5h-7.9l-2.45-7.5zM953.5 495.5l6.4 4.7-2.45 7.5h-7.9l-2.45-7.5zM955.9 493.7l6.4 4.7-2.45 7.5h-7.9l-2.45-7.5zM958.3 492.0l6.4 4.7-2.45 7.5h-7.9l-2.45-7.5zM960.7 491.7l6.4 4.7-2.45 7.5h-7.9l-2.45-7.5zM963.1 489.0l6.4 4.7-2.45 7.5h-7.9l-2.45-7.5zM965.5 487.5l6.4 4.7-2.45 7.5h-7.9l-2.45-7.5zM967.9 485.6l6.4 4.7-2.45 7.5h-7.9l-2.45-7.5zM970.3 484.5l6.4 4.7-2.45 7.5h-7.9l-2.45-7.5zM972.6 482.6l6.4 4.7-2.45 7.5h-7.9l-2.45-7.5zM975.0 480.4l6.4 4.7-2.45 7.5h-7.9l-2.45-7.5zM977.4 479.0l6.4 4.7-2.45 7.5h-7.9l-2.45-7.5zM979.8 476.8l6.4 4.7-2.45 7.5h-7.9l-2.45-7.5zM982.2 475.8l6.4 4.7-2.45 7.5h-7.9l-2.45-7.5zM984.6 473.9l6.4 4.7-2.45 7.5h-7.9l-2.45-7.5zM987.0 471.0l6.4 4.7-2.45 7.5h-7.9l-2.45-7.5zM960.7 508.3l6.4 4.7-2.45 7.5h-7.9l-2.45-7.5zM963.1 506.1l6.4 4.7-2.45 7.5h-7.9l-2.45-7.5zM965.5 506.2l6.4 4.7-2.45 7.5h-7.9l-2.45-7.5zM967.9 502.1l6.4 4.7-2.45 7.5h-7.9l-2.45-7.5zM970.3 502.6l6.4 4.7-2.45 7.5h-7.9l-2.45-7.5zM972.6 499.5l6.4 4.7-2.45 7.5h-7.9l-2.45-7.5zM975.0 499.4l6.4 4.7-2.45 7.5h-7.9l-2.45-7.5zM977.4 495.7l6.4 4.7-2.45 7.5h-7.9l-2.45-7.5zM979.8 495.7l6.4 4.7-2.45 7.5h-7.9l-2.45-7.5zM982.2 492.3l6.4 4.7-2.45 7.5h-7.9l-2.45-7.5zM984.6 490.5l6.4 4.7-2.45 7.5h-7.9l-2.45-7.5zM987.0 488.6l6.4 4.7-2.45 7.5h-7.9l-2.45-7.5zM989.4 487.7l6.4 4.7-2.45 7.5h-7.9l-2.45-7.5zM991.8 484.7l6.4 4.7-2.45 7.5h-7.9l-2.45-7.5zM994.1 482.6l6.4 4.7-2.45 7.5h-7.9l-2.45-7.5zM996.5 483.3l6.4 4.7-2.45 7.5h-7.9l-2.45-7.5zM998.9 480.4l6.4 4.7-2.45 7.5h-7.9l-2.45-7.5zM1001.3 477.4l6.4 4.7-2.45 7.5h-7.9l-2.45-7.5zM1003.7 476.2l6.4 4.7-2.45 7.5h-7.9l-2.45-7.5zM1006.1 475.3l6.4 4.7-2.45 7.5h-7.9l-2.45-7.5zM1008.5 473.9l6.4 4.7-2.45 7.5h-7.9l-2.45-7.5zM1010.9 470.3l6.4 4.7-2.45 7.5h-7.9l-2.45-7.5zM1013.2 471.0l6.4 4.7-2.45 7.5h-7.9l-2.45-7.5zM1015.6 467.3l6.4 4.7-2.45 7.5h-7.9l-2.45-7.5zM1018.0 465.3l6.4 4.7-2.45 7.5h-7.9l-2.45-7.5zM1020.4 465.4l6.4 4.7-2.45 7.5h-7.9l-2.45-7.5zM955.5 493.1l6.4 4.7-2.45 7.5h-7.9l-2.45-7.5zM968.3 479.0l6.4 4.7-2.45 7.5h-7.9l-2.45-7.5zM968.6 480.1l6.4 4.7-2.45 7.5h-7.9l-2.45-7.5zM985.7 472.7l6.4 4.7-2.45 7.5h-7.9l-2.45-7.5zM988.2 459.9l6.4 4.7-2.45 7.5h-7.9l-2.45-7.5zM1005.0 456.4l6.4 4.7-2.45 7.5h-7.9l-2.45-7.5zM1002.2 455.0l6.4 4.7-2.45 7.5h-7.9l-2.45-7.5zM948.8 506.5l6.4 4.7-2.45 7.5h-7.9l-2.45-7.5zM951.2 506.7l6.4 4.7-2.45 7.5h-7.9l-2.45-7.5zM964.0 503.9l6.4 4.7-2.45 7.5h-7.9l-2.45-7.5zM992.2 499.6l6.4 4.7-2.45 7.5h-7.9l-2.45-7.5zM1006.8 481.9l6.4 4.7-2.45 7.5h-7.9l-2.45-7.5zM1010.5 476.0l6.4 4.7-2.45 7.5h-7.9l-2.45-7.5zM1025.8 462.5l6.4 4.7-2.45 7.5h-7.9l-2.45-7.5zM1060.8 405.8l6.4 4.7-2.45 7.5h-7.9l-2.45-7.5zM1082.8 425.4l6.4 4.7-2.45 7.5h-7.9l-2.45-7.5zM1090.8 426.6l6.4 4.7-2.45 7.5h-7.9l-2.45-7.5zM1048.0 426.6l6.4 4.7-2.45 7.5h-7.9l-2.45-7.5zM1034.5 429.0l6.4 4.7-2.45 7.5h-7.9l-2.45-7.5zM1062.6 426.6l6.4 4.7-2.45 7.5h-7.9l-2.45-7.5zM1026.6 443.7l6.4 4.7-2.45 7.5h-7.9l-2.45-7.5zM1007.0 448.0l6.4 4.7-2.45 7.5h-7.9l-2.45-7.5zM1007.0 455.3l6.4 4.7-2.45 7.5h-7.9l-2.45-7.5zM1039.4 452.9l6.4 4.7-2.45 7.5h-7.9l-2.45-7.5zM988.1 459.0l6.4 4.7-2.45 7.5h-7.9l-2.45-7.5zM1046.7 466.9l6.4 4.7-2.45 7.5h-7.9l-2.45-7.5zM992.3 500.5l6.4 4.7-2.45 7.5h-7.9l-2.45-7.5zM1024.1 465.1l6.4 4.7-2.45 7.5h-7.9l-2.45-7.5zM1093.0 372.3l6.4 4.7-2.45 7.5h-7.9l-2.45-7.5zM1201.8 324.0l6.4 4.7-2.45 7.5h-7.9l-2.45-7.5zM1119.9 403.4l6.4 4.7-2.45 7.5h-7.9l-2.45-7.5zM1127.2 402.2l6.4 4.7-2.45 7.5h-7.9l-2.45-7.5zM1144.4 400.4l6.4 4.7-2.45 7.5h-7.9l-2.45-7.5zM1083.2 426.0l6.4 4.7-2.45 7.5h-7.9l-2.45-7.5zM1090.6 427.3l6.4 4.7-2.45 7.5h-7.9l-2.45-7.5zM1061.8 405.9l6.4 4.7-2.45 7.5h-7.9l-2.45-7.5z"/>
<line x1="945.4" y1="516.5" x2="1581.9" y2="74.2" stroke="#f0a0ff" stroke-width="2.6"/>
<line x1="949.3" y1="513.7" x2="1201.8" y2="346.0" stroke="#00f000" stroke-width="3.0"/>
<line x1="920.1" y1="537.9" x2="1612.5" y2="22.7" stroke="#00ffff" stroke-width="3.1"/>
<rect class="ax" x="920.0" y="5.0" width="716.7" height="533.0"/>
<path class="tk" d="M944.0 538.0v9.0M920.0 520.1h-9.0M991.8 538.0v5.2M920.0 484.6h-5.2M1039.5 538.0v9.0M920.0 449.0h-9.0M1087.2 538.0v5.2M920.0 413.5h-5.2M1135.0 538.0v9.0M920.0 378.0h-9.0M1182.8 538.0v5.2M920.0 342.5h-5.2M1230.5 538.0v9.0M920.0 306.9h-9.0M1278.2 538.0v5.2M920.0 271.4h-5.2M1326.0 538.0v9.0M920.0 235.9h-9.0M1373.8 538.0v5.2M920.0 200.3h-5.2M1421.5 538.0v9.0M920.0 164.8h-9.0M1469.2 538.0v5.2M920.0 129.3h-5.2M1517.0 538.0v9.0M920.0 93.7h-9.0M1564.8 538.0v5.2M920.0 58.2h-5.2M1612.5 538.0v9.0M920.0 22.7h-9.0"/>
<g class="tl" style="font-size:18.6px">
<text transform="translate(944.7 567.6) scale(1 1.06)" text-anchor="middle">0</text>
<text transform="translate(1040.2 567.6) scale(1 1.06)" text-anchor="middle">20</text>
<text transform="translate(1135.7 567.6) scale(1 1.06)" text-anchor="middle">40</text>
<text transform="translate(1231.2 567.6) scale(1 1.06)" text-anchor="middle">60</text>
<text transform="translate(1326.7 567.6) scale(1 1.06)" text-anchor="middle">80</text>
<text transform="translate(1422.2 567.6) scale(1 1.06)" text-anchor="middle">100</text>
<text transform="translate(1517.7 567.6) scale(1 1.06)" text-anchor="middle">120</text>
<text transform="translate(1613.2 567.6) scale(1 1.06)" text-anchor="middle">140</text>
<text transform="translate(904.2 525.9) scale(1 1.06)" text-anchor="end">0</text>
<text transform="translate(904.2 454.8) scale(1 1.06)" text-anchor="end">20</text>
<text transform="translate(904.2 383.8) scale(1 1.06)" text-anchor="end">40</text>
<text transform="translate(904.2 312.7) scale(1 1.06)" text-anchor="end">60</text>
<text transform="translate(904.2 241.7) scale(1 1.06)" text-anchor="end">80</text>
<text transform="translate(904.2 170.6) scale(1 1.06)" text-anchor="end">100</text>
<text transform="translate(904.2 99.5) scale(1 1.06)" text-anchor="end">120</text>
<text transform="translate(904.2 28.5) scale(1 1.06)" text-anchor="end">140</text>
</g>
<text class="at" font-size="21.5" x="1278.7" y="607.8" text-anchor="middle">Experimental Dnssm (x10<tspan font-size="15.48" dy="-9.68">-12</tspan><tspan dy="9.68">m</tspan><tspan font-size="15.48" dy="-9.68">2</tspan><tspan dy="9.68">/s)</tspan></text>
<text class="at" font-size="21.7" transform="translate(865.2 271.6) rotate(-90) scale(1 1.0)" text-anchor="middle">SVR-GWO prdicted Dnssm (x10<tspan font-size="15.19" dy="-9.77">-12</tspan><tspan dy="9.77">m</tspan><tspan font-size="15.19" dy="-9.77">2</tspan><tspan dy="9.77">/s)</tspan></text>
<rect x="934.1" y="18.1" width="260.9" height="112.2" fill="#fff" stroke="#000" stroke-width="3.3"/>
<circle cx="956.2" cy="30.1" r="6.1" fill="url(#og)"/>
<path fill="#1433ff" d="M956.2 45.4l6.4 4.7-2.45 7.5h-7.9l-2.45-7.5z"/>
<line x1="936.1" y1="73.9" x2="974.7" y2="73.9" stroke="#f0a0ff" stroke-width="2.6"/>
<line x1="936.1" y1="95.6" x2="974.7" y2="95.6" stroke="#00f000" stroke-width="3.0"/>
<line x1="936.1" y1="117.4" x2="974.7" y2="117.4" stroke="#00ffff" stroke-width="3.1"/>
<g class="lg">
<text transform="translate(980.1 35.9) scale(1 1.07)">Training datapoints</text>
<text transform="translate(980.1 57.8) scale(1 1.07)">Testing datapoints</text>
<text transform="translate(980.1 80.1) scale(1 1.07)">y = 0.92x + 0.74 (Training fit)</text>
<text transform="translate(980.1 101.7) scale(1 1.07)">y = 0.93x + 0.81 (Testing fit)</text>
<text transform="translate(980.1 123.6) scale(1 1.07)">y = x (Ideal fit)</text>
</g>
</g>
<g id="panel-PSO">
<g fill="url(#og)">
<circle cx="738.8" cy="816.8" r="6.1"/>
<circle cx="557.1" cy="927.2" r="6.1"/>
<circle cx="486.5" cy="822.1" r="6.1"/>
<circle cx="403.0" cy="867.6" r="6.1"/>
<circle cx="340.5" cy="933.6" r="6.1"/>
<circle cx="308.1" cy="979.5" r="6.1"/>
<circle cx="300.0" cy="1034.9" r="6.1"/>
<circle cx="262.3" cy="978.4" r="6.1"/>
<circle cx="109.2" cy="1125.9" r="6.1"/>
<circle cx="112.0" cy="1123.3" r="6.1"/>
<circle cx="114.9" cy="1119.8" r="6.1"/>
<circle cx="117.7" cy="1116.2" r="6.1"/>
<circle cx="120.6" cy="1116.8" r="6.1"/>
<circle cx="123.5" cy="1114.8" r="6.1"/>
<circle cx="126.3" cy="1112.1" r="6.1"/>
<circle cx="129.2" cy="1107.4" r="6.1"/>
<circle cx="132.1" cy="1108.3" r="6.1"/>
<circle cx="134.9" cy="1103.2" r="6.1"/>
<circle cx="137.8" cy="1101.5" r="6.1"/>
<circle cx="140.6" cy="1102.0" r="6.1"/>
<circle cx="143.5" cy="1097.9" r="6.1"/>
<circle cx="146.4" cy="1096.2" r="6.1"/>
<circle cx="149.2" cy="1094.2" r="6.1"/>
<circle cx="152.1" cy="1089.2" r="6.1"/>
<circle cx="154.9" cy="1091.6" r="6.1"/>
<circle cx="157.8" cy="1089.8" r="6.1"/>
<circle cx="160.7" cy="1083.2" r="6.1"/>
<circle cx="163.5" cy="1083.7" r="6.1"/>
<circle cx="166.4" cy="1082.6" r="6.1"/>
<circle cx="169.3" cy="1079.8" r="6.1"/>
<circle cx="172.1" cy="1077.5" r="6.1"/>
<circle cx="175.0" cy="1072.5" r="6.1"/>
<circle cx="177.8" cy="1074.1" r="6.1"/>
<circle cx="180.7" cy="1071.9" r="6.1"/>
<circle cx="183.6" cy="1068.0" r="6.1"/>
<circle cx="186.4" cy="1066.1" r="6.1"/>
<circle cx="189.3" cy="1061.9" r="6.1"/>
<circle cx="192.2" cy="1060.4" r="6.1"/>
<circle cx="195.0" cy="1060.6" r="6.1"/>
<circle cx="197.9" cy="1059.3" r="6.1"/>
<circle cx="200.7" cy="1054.0" r="6.1"/>
<circle cx="203.6" cy="1051.2" r="6.1"/>
<circle cx="206.5" cy="1053.8" r="6.1"/>
<circle cx="182.8" cy="1031.0" r="6.1"/>
<circle cx="220.1" cy="1022.4" r="6.1"/>
<circle cx="212.1" cy="1037.1" r="6.1"/>
<circle cx="212.8" cy="1040.7" r="6.1"/>
<circle cx="248.8" cy="1038.3" r="6.1"/>
<circle cx="229.3" cy="1048.7" r="6.1"/>
<circle cx="196.2" cy="1048.7" r="6.1"/>
<circle cx="179.7" cy="1054.2" r="6.1"/>
<circle cx="134.5" cy="1089.6" r="6.1"/>
<circle cx="123.5" cy="1093.9" r="6.1"/>
<circle cx="184.0" cy="1090.2" r="6.1"/>
<circle cx="174.9" cy="1089.0" r="6.1"/>
<circle cx="199.9" cy="1069.5" r="6.1"/>
<circle cx="100.9" cy="1122.6" r="6.1"/>
<circle cx="107.0" cy="1111.6" r="6.1"/>
<circle cx="142.5" cy="1107.4" r="6.1"/>
<circle cx="135.1" cy="1113.5" r="6.1"/>
<circle cx="168.1" cy="1069.5" r="6.1"/>
<circle cx="228.6" cy="1038.9" r="6.1"/>
<circle cx="158.3" cy="1098.8" r="6.1"/>
</g>
<path fill="#0000ff" d="M359.6 959.1l6.4 4.7-2.45 7.5h-7.9l-2.45-7.5zM251.3 979.9l6.4 4.7-2.45 7.5h-7.9l-2.45-7.5zM302.3 1001.1l6.4 4.7-2.45 7.5h-7.9l-2.45-7.5zM285.2 999.7l6.4 4.7-2.45 7.5h-7.9l-2.45-7.5zM278.5 1009.2l6.4 4.7-2.45 7.5h-7.9l-2.45-7.5zM110.6 1119.0l6.4 4.7-2.45 7.5h-7.9l-2.45-7.5zM111.5 1117.0l6.4 4.7-2.45 7.5h-7.9l-2.45-7.5zM112.5 1115.5l6.4 4.7-2.45 7.5h-7.9l-2.45-7.5zM113.4 1109.3l6.4 4.7-2.45 7.5h-7.9l-2.45-7.5zM114.4 1112.3l6.4 4.7-2.45 7.5h-7.9l-2.45-7.5zM115.4 1109.5l6.4 4.7-2.45 7.5h-7.9l-2.45-7.5zM116.3 1114.5l6.4 4.7-2.45 7.5h-7.9l-2.45-7.5zM117.3 1110.1l6.4 4.7-2.45 7.5h-7.9l-2.45-7.5zM118.2 1106.3l6.4 4.7-2.45 7.5h-7.9l-2.45-7.5zM119.2 1108.5l6.4 4.7-2.45 7.5h-7.9l-2.45-7.5zM120.1 1104.0l6.4 4.7-2.45 7.5h-7.9l-2.45-7.5zM121.1 1103.8l6.4 4.7-2.45 7.5h-7.9l-2.45-7.5zM122.0 1107.8l6.4 4.7-2.45 7.5h-7.9l-2.45-7.5zM123.0 1110.5l6.4 4.7-2.45 7.5h-7.9l-2.45-7.5zM123.9 1102.9l6.4 4.7-2.45 7.5h-7.9l-2.45-7.5zM124.9 1107.9l6.4 4.7-2.45 7.5h-7.9l-2.45-7.5zM125.9 1108.3l6.4 4.7-2.45 7.5h-7.9l-2.45-7.5zM126.8 1101.0l6.4 4.7-2.45 7.5h-7.9l-2.45-7.5zM127.8 1099.2l6.4 4.7-2.45 7.5h-7.9l-2.45-7.5zM128.7 1098.6l6.4 4.7-2.45 7.5h-7.9l-2.45-7.5zM129.7 1096.8l6.4 4.7-2.45 7.5h-7.9l-2.45-7.5zM130.6 1103.0l6.4 4.7-2.45 7.5h-7.9l-2.45-7.5zM131.6 1103.4l6.4 4.7-2.45 7.5h-7.9l-2.45-7.5zM132.5 1102.3l6.4 4.7-2.45 7.5h-7.9l-2.45-7.5zM133.5 1093.8l6.4 4.7-2.45 7.5h-7.9l-2.45-7.5zM134.4 1101.0l6.4 4.7-2.45 7.5h-7.9l-2.45-7.5zM135.4 1099.9l6.4 4.7-2.45 7.5h-7.9l-2.45-7.5zM136.3 1100.4l6.4 4.7-2.45 7.5h-7.9l-2.45-7.5zM137.3 1099.5l6.4 4.7-2.45 7.5h-7.9l-2.45-7.5zM138.3 1098.9l6.4 4.7-2.45 7.5h-7.9l-2.45-7.5zM139.2 1095.3l6.4 4.7-2.45 7.5h-7.9l-2.45-7.5zM140.2 1096.3l6.4 4.7-2.45 7.5h-7.9l-2.45-7.5zM141.1 1094.3l6.4 4.7-2.45 7.5h-7.9l-2.45-7.5zM142.1 1087.9l6.4 4.7-2.45 7.5h-7.9l-2.45-7.5zM143.0 1094.1l6.4 4.7-2.45 7.5h-7.9l-2.45-7.5zM144.0 1087.5l6.4 4.7-2.45 7.5h-7.9l-2.45-7.5zM144.9 1087.5l6.4 4.7-2.45 7.5h-7.9l-2.45-7.5zM145.9 1088.3l6.4 4.7-2.45 7.5h-7.9l-2.45-7.5zM146.8 1087.6l6.4 4.7-2.45 7.5h-7.9l-2.45-7.5zM147.8 1085.1l6.4 4.7-2.45 7.5h-7.9l-2.45-7.5zM148.7 1086.1l6.4 4.7-2.45 7.5h-7.9l-2.45-7.5zM149.7 1088.6l6.4 4.7-2.45 7.5h-7.9l-2.45-7.5zM150.7 1087.0l6.4 4.7-2.45 7.5h-7.9l-2.45-7.5zM151.6 1087.1l6.4 4.7-2.45 7.5h-7.9l-2.45-7.5zM152.6 1084.9l6.4 4.7-2.45 7.5h-7.9l-2.45-7.5zM153.5 1078.9l6.4 4.7-2.45 7.5h-7.9l-2.45-7.5zM154.5 1083.3l6.4 4.7-2.45 7.5h-7.9l-2.45-7.5zM155.4 1085.9l6.4 4.7-2.45 7.5h-7.9l-2.45-7.5zM156.4 1081.4l6.4 4.7-2.45 7.5h-7.9l-2.45-7.5zM157.3 1077.6l6.4 4.7-2.45 7.5h-7.9l-2.45-7.5zM158.3 1080.3l6.4 4.7-2.45 7.5h-7.9l-2.45-7.5zM159.2 1077.2l6.4 4.7-2.45 7.5h-7.9l-2.45-7.5zM160.2 1082.1l6.4 4.7-2.45 7.5h-7.9l-2.45-7.5zM161.1 1081.7l6.4 4.7-2.45 7.5h-7.9l-2.45-7.5zM162.1 1075.5l6.4 4.7-2.45 7.5h-7.9l-2.45-7.5zM163.1 1080.4l6.4 4.7-2.45 7.5h-7.9l-2.45-7.5zM164.0 1077.4l6.4 4.7-2.45 7.5h-7.9l-2.45-7.5zM165.0 1075.9l6.4 4.7-2.45 7.5h-7.9l-2.45-7.5zM165.9 1077.0l6.4 4.7-2.45 7.5h-7.9l-2.45-7.5zM166.9 1077.7l6.4 4.7-2.45 7.5h-7.9l-2.45-7.5zM167.8 1077.3l6.4 4.7-2.45 7.5h-7.9l-2.45-7.5zM168.8 1067.9l6.4 4.7-2.45 7.5h-7.9l-2.45-7.5zM169.7 1069.6l6.4 4.7-2.45 7.5h-7.9l-2.45-7.5zM170.7 1066.5l6.4 4.7-2.45 7.5h-7.9l-2.45-7.5zM171.6 1070.0l6.4 4.7-2.45 7.5h-7.9l-2.45-7.5zM172.6 1065.0l6.4 4.7-2.45 7.5h-7.9l-2.45-7.5zM173.5 1065.2l6.4 4.7-2.45 7.5h-7.9l-2.45-7.5zM174.5 1066.7l6.4 4.7-2.45 7.5h-7.9l-2.45-7.5zM175.5 1066.9l6.4 4.7-2.45 7.5h-7.9l-2.45-7.5zM176.4 1066.3l6.4 4.7-2.45 7.5h-7.9l-2.45-7.5zM177.4 1068.2l6.4 4.7-2.45 7.5h-7.9l-2.45-7.5zM178.3 1066.1l6.4 4.7-2.45 7.5h-7.9l-2.45-7.5zM179.3 1062.2l6.4 4.7-2.45 7.5h-7.9l-2.45-7.5zM180.2 1066.4l6.4 4.7-2.45 7.5h-7.9l-2.45-7.5zM181.2 1059.7l6.4 4.7-2.45 7.5h-7.9l-2.45-7.5zM182.1 1062.1l6.4 4.7-2.45 7.5h-7.9l-2.45-7.5zM183.1 1060.5l6.4 4.7-2.45 7.5h-7.9l-2.45-7.5zM184.0 1057.8l6.4 4.7-2.45 7.5h-7.9l-2.45-7.5zM185.0 1058.7l6.4 4.7-2.45 7.5h-7.9l-2.45-7.5zM186.0 1062.7l6.4 4.7-2.45 7.5h-7.9l-2.45-7.5zM186.9 1060.9l6.4 4.7-2.45 7.5h-7.9l-2.45-7.5zM187.9 1062.5l6.4 4.7-2.45 7.5h-7.9l-2.45-7.5zM188.8 1061.6l6.4 4.7-2.45 7.5h-7.9l-2.45-7.5zM189.8 1052.4l6.4 4.7-2.45 7.5h-7.9l-2.45-7.5zM190.7 1055.0l6.4 4.7-2.45 7.5h-7.9l-2.45-7.5zM191.7 1050.8l6.4 4.7-2.45 7.5h-7.9l-2.45-7.5zM192.6 1051.8l6.4 4.7-2.45 7.5h-7.9l-2.45-7.5zM193.6 1055.4l6.4 4.7-2.45 7.5h-7.9l-2.45-7.5zM194.5 1048.7l6.4 4.7-2.45 7.5h-7.9l-2.45-7.5zM195.5 1048.4l6.4 4.7-2.45 7.5h-7.9l-2.45-7.5zM196.4 1052.0l6.4 4.7-2.45 7.5h-7.9l-2.45-7.5zM197.4 1054.7l6.4 4.7-2.45 7.5h-7.9l-2.45-7.5zM198.4 1051.8l6.4 4.7-2.45 7.5h-7.9l-2.45-7.5zM199.3 1052.5l6.4 4.7-2.45 7.5h-7.9l-2.45-7.5zM200.3 1050.0l6.4 4.7-2.45 7.5h-7.9l-2.45-7.5zM201.2 1051.9l6.4 4.7-2.45 7.5h-7.9l-2.45-7.5zM202.2 1045.4l6.4 4.7-2.45 7.5h-7.9l-2.45-7.5zM137.8 1101.0l6.4 4.7-2.45 7.5h-7.9l-2.45-7.5zM140.2 1099.2l6.4 4.7-2.45 7.5h-7.9l-2.45-7.5zM142.5 1097.1l6.4 4.7-2.45 7.5h-7.9l-2.45-7.5zM144.9 1096.3l6.4 4.7-2.45 7.5h-7.9l-2.45-7.5zM147.3 1093.8l6.4 4.7-2.45 7.5h-7.9l-2.45-7.5zM149.7 1091.6l6.4 4.7-2.45 7.5h-7.9l-2.45-7.5zM152.1 1089.8l6.4 4.7-2.45 7.5h-7.9l-2.45-7.5zM154.5 1089.4l6.4 4.7-2.45 7.5h-7.9l-2.45-7.5zM156.9 1086.8l6.4 4.7-2.45 7.5h-7.9l-2.45-7.5zM159.2 1085.1l6.4 4.7-2.45 7.5h-7.9l-2.45-7.5zM161.6 1083.5l6.4 4.7-2.45 7.5h-7.9l-2.45-7.5zM164.0 1080.9l6.4 4.7-2.45 7.5h-7.9l-2.45-7.5zM166.4 1079.9l6.4 4.7-2.45 7.5h-7.9l-2.45-7.5zM168.8 1078.3l6.4 4.7-2.45 7.5h-7.9l-2.45-7.5zM171.2 1075.7l6.4 4.7-2.45 7.5h-7.9l-2.45-7.5zM173.6 1074.4l6.4 4.7-2.45 7.5h-7.9l-2.45-7.5zM175.9 1073.3l6.4 4.7-2.45 7.5h-7.9l-2.45-7.5zM178.3 1071.5l6.4 4.7-2.45 7.5h-7.9l-2.45-7.5zM180.7 1069.4l6.4 4.7-2.45 7.5h-7.9l-2.45-7.5zM183.1 1068.4l6.4 4.7-2.45 7.5h-7.9l-2.45-7.5zM185.5 1065.7l6.4 4.7-2.45 7.5h-7.9l-2.45-7.5zM187.9 1063.7l6.4 4.7-2.45 7.5h-7.9l-2.45-7.5zM190.2 1062.5l6.4 4.7-2.45 7.5h-7.9l-2.45-7.5zM192.6 1060.0l6.4 4.7-2.45 7.5h-7.9l-2.45-7.5zM109.6 1110.6l6.4 4.7-2.45 7.5h-7.9l-2.45-7.5zM113.0 1108.1l6.4 4.7-2.45 7.5h-7.9l-2.45-7.5zM116.3 1105.1l6.4 4.7-2.45 7.5h-7.9l-2.45-7.5zM119.6 1102.6l6.4 4.7-2.45 7.5h-7.9l-2.45-7.5zM123.0 1100.1l6.4 4.7-2.45 7.5h-7.9l-2.45-7.5zM126.3 1098.6l6.4 4.7-2.45 7.5h-7.9l-2.45-7.5zM129.7 1095.1l6.4 4.7-2.45 7.5h-7.9l-2.45-7.5zM133.0 1093.5l6.4 4.7-2.45 7.5h-7.9l-2.45-7.5zM136.3 1091.3l6.4 4.7-2.45 7.5h-7.9l-2.45-7.5zM139.7 1089.2l6.4 4.7-2.45 7.5h-7.9l-2.45-7.5zM143.0 1086.0l6.4 4.7-2.45 7.5h-7.9l-2.45-7.5zM146.4 1084.1l6.4 4.7-2.45 7.5h-7.9l-2.45-7.5zM149.7 1081.4l6.4 4.7-2.45 7.5h-7.9l-2.45-7.5zM153.0 1078.4l6.4 4.7-2.45 7.5h-7.9l-2.45-7.5zM156.4 1075.6l6.4 4.7-2.45 7.5h-7.9l-2.45-7.5zM159.7 1073.2l6.4 4.7-2.45 7.5h-7.9l-2.45-7.5zM163.1 1071.9l6.4 4.7-2.45 7.5h-7.9l-2.45-7.5zM166.4 1069.5l6.4 4.7-2.45 7.5h-7.9l-2.45-7.5zM169.7 1066.6l6.4 4.7-2.45 7.5h-7.9l-2.45-7.5zM173.1 1063.7l6.4 4.7-2.45 7.5h-7.9l-2.45-7.5zM176.4 1060.7l6.4 4.7-2.45 7.5h-7.9l-2.45-7.5zM179.8 1058.3l6.4 4.7-2.45 7.5h-7.9l-2.45-7.5zM183.1 1055.6l6.4 4.7-2.45 7.5h-7.9l-2.45-7.5zM186.4 1053.7l6.4 4.7-2.45 7.5h-7.9l-2.45-7.5zM218.9 1026.2l6.4 4.7-2.45 7.5h-7.9l-2.45-7.5zM248.2 1013.4l6.4 4.7-2.45 7.5h-7.9l-2.45-7.5zM279.4 1007.8l6.4 4.7-2.45 7.5h-7.9l-2.45-7.5zM284.3 999.3l6.4 4.7-2.45 7.5h-7.9l-2.45-7.5zM242.7 1030.5l6.4 4.7-2.45 7.5h-7.9l-2.45-7.5zM221.9 1045.7l6.4 4.7-2.45 7.5h-7.9l-2.45-7.5zM205.4 1044.5l6.4 4.7-2.45 7.5h-7.9l-2.45-7.5zM195.6 1051.2l6.4 4.7-2.45 7.5h-7.9l-2.45-7.5zM206.0 1055.5l6.4 4.7-2.45 7.5h-7.9l-2.45-7.5zM176.7 1054.3l6.4 4.7-2.45 7.5h-7.9l-2.45-7.5zM197.5 1061.6l6.4 4.7-2.45 7.5h-7.9l-2.45-7.5zM157.1 1065.9l6.4 4.7-2.45 7.5h-7.9l-2.45-7.5zM160.8 1064.1l6.4 4.7-2.45 7.5h-7.9l-2.45-7.5zM164.5 1089.8l6.4 4.7-2.45 7.5h-7.9l-2.45-7.5zM185.2 1070.2l6.4 4.7-2.45 7.5h-7.9l-2.45-7.5zM146.1 1080.0l6.4 4.7-2.45 7.5h-7.9l-2.45-7.5zM128.4 1089.8l6.4 4.7-2.45 7.5h-7.9l-2.45-7.5zM111.9 1102.0l6.4 4.7-2.45 7.5h-7.9l-2.45-7.5zM109.4 1119.1l6.4 4.7-2.45 7.5h-7.9l-2.45-7.5zM151.0 1093.4l6.4 4.7-2.45 7.5h-7.9l-2.45-7.5z"/>
<line x1="103.4" y1="1120.6" x2="738.8" y2="742.7" stroke="#f0a0ff" stroke-width="2.6"/>
<line x1="107.2" y1="1122.4" x2="359.6" y2="952.3" stroke="#00f000" stroke-width="3.0"/>
<line x1="78.2" y1="1146.4" x2="769.8" y2="634.7" stroke="#00ffff" stroke-width="3.1"/>
<rect class="ax" x="78.3" y="616.9" width="715.0" height="529.1"/>
<path class="tk" d="M102.0 1146.0v9.0M78.3 1128.8h-9.0M149.7 1146.0v5.2M78.3 1093.5h-5.2M197.4 1146.0v9.0M78.3 1058.2h-9.0M245.1 1146.0v5.2M78.3 1022.9h-5.2M292.8 1146.0v9.0M78.3 987.6h-9.0M340.5 1146.0v5.2M78.3 952.3h-5.2M388.2 1146.0v9.0M78.3 917.0h-9.0M435.9 1146.0v5.2M78.3 881.7h-5.2M483.6 1146.0v9.0M78.3 846.4h-9.0M531.3 1146.0v5.2M78.3 811.1h-5.2M579.0 1146.0v9.0M78.3 775.9h-9.0M626.7 1146.0v5.2M78.3 740.6h-5.2M674.4 1146.0v9.0M78.3 705.3h-9.0M722.1 1146.0v5.2M78.3 670.0h-5.2M769.8 1146.0v9.0M78.3 634.7h-9.0"/>
<g class="tl" style="font-size:18.6px">
<text transform="translate(102.7 1177.0) scale(1 1.06)" text-anchor="middle">0</text>
<text transform="translate(198.1 1177.0) scale(1 1.06)" text-anchor="middle">20</text>
<text transform="translate(293.5 1177.0) scale(1 1.06)" text-anchor="middle">40</text>
<text transform="translate(388.9 1177.0) scale(1 1.06)" text-anchor="middle">60</text>
<text transform="translate(484.3 1177.0) scale(1 1.06)" text-anchor="middle">80</text>
<text transform="translate(579.7 1177.0) scale(1 1.06)" text-anchor="middle">100</text>
<text transform="translate(675.1 1177.0) scale(1 1.06)" text-anchor="middle">120</text>
<text transform="translate(770.5 1177.0) scale(1 1.06)" text-anchor="middle">140</text>
<text transform="translate(62.6 1134.5) scale(1 1.06)" text-anchor="end">0</text>
<text transform="translate(62.6 1064.0) scale(1 1.06)" text-anchor="end">20</text>
<text transform="translate(62.6 993.4) scale(1 1.06)" text-anchor="end">40</text>
<text transform="translate(62.6 922.8) scale(1 1.06)" text-anchor="end">60</text>
<text transform="translate(62.6 852.2) scale(1 1.06)" text-anchor="end">80</text>
<text transform="translate(62.6 781.6) scale(1 1.06)" text-anchor="end">100</text>
<text transform="translate(62.6 711.1) scale(1 1.06)" text-anchor="end">120</text>
<text transform="translate(62.6 640.5) scale(1 1.06)" text-anchor="end">140</text>
</g>
<text class="at" font-size="24" x="436.25" y="1217.2" text-anchor="middle">Experimental Dnssm (x10<tspan font-size="16.08" dy="-6.72">-12</tspan><tspan dy="6.72">m</tspan><tspan font-size="16.08" dy="-6.72">2</tspan><tspan dy="6.72">/s)</tspan></text>
<text class="at" font-size="21.6" transform="translate(24.15 880.6) rotate(-90) scale(1 1.0)" text-anchor="middle">SVR-PSO prdicted Dnssm (x10<tspan font-size="15.55" dy="-9.72">-12</tspan><tspan dy="9.72">m</tspan><tspan font-size="15.55" dy="-9.72">2</tspan><tspan dy="9.72">/s)</tspan></text>
<rect x="96.6" y="630.1" width="260.1" height="111.0" fill="#fff" stroke="#000" stroke-width="3.3"/>
<circle cx="118.3" cy="642.3" r="6.1" fill="url(#og)"/>
<path fill="#0000ff" d="M118.3 657.5l6.4 4.7-2.45 7.5h-7.9l-2.45-7.5z"/>
<line x1="98.6" y1="685.6" x2="137.7" y2="685.6" stroke="#f0a0ff" stroke-width="2.6"/>
<line x1="98.6" y1="707.3" x2="137.7" y2="707.3" stroke="#00f000" stroke-width="3.0"/>
<line x1="98.6" y1="728.9" x2="137.7" y2="728.9" stroke="#00ffff" stroke-width="3.1"/>
<g class="lg">
<text transform="translate(143.1 648.7) scale(1 1.07)">Training datapoints</text>
<text transform="translate(143.1 670.6) scale(1 1.07)">Testing datapoints</text>
<text transform="translate(143.1 692.6) scale(1 1.07)">y = 0.85x + 2.11 (Training fit)</text>
<text transform="translate(143.1 714.3) scale(1 1.07)">y = 0.91x + 0.76 (Training fit)</text>
<text transform="translate(143.1 736.0) scale(1 1.07)">y = x (Ideal fit)</text>
</g>
</g>
<g id="panel-FFA">
<g fill="url(#og)">
<circle cx="1582.3" cy="838.3" r="6.1"/>
<circle cx="1400.2" cy="956.1" r="6.1"/>
<circle cx="1329.5" cy="842.2" r="6.1"/>
<circle cx="1245.8" cy="867.5" r="6.1"/>
<circle cx="1183.2" cy="961.1" r="6.1"/>
<circle cx="1150.7" cy="956.4" r="6.1"/>
<circle cx="1142.6" cy="1064.3" r="6.1"/>
<circle cx="1104.8" cy="987.8" r="6.1"/>
<circle cx="951.4" cy="1127.3" r="6.1"/>
<circle cx="954.2" cy="1126.2" r="6.1"/>
<circle cx="957.1" cy="1124.4" r="6.1"/>
<circle cx="960.0" cy="1117.5" r="6.1"/>
<circle cx="962.8" cy="1117.5" r="6.1"/>
<circle cx="965.7" cy="1114.7" r="6.1"/>
<circle cx="968.6" cy="1113.4" r="6.1"/>
<circle cx="971.4" cy="1112.4" r="6.1"/>
<circle cx="974.3" cy="1108.0" r="6.1"/>
<circle cx="977.2" cy="1106.9" r="6.1"/>
<circle cx="980.1" cy="1103.4" r="6.1"/>
<circle cx="982.9" cy="1102.0" r="6.1"/>
<circle cx="985.8" cy="1098.8" r="6.1"/>
<circle cx="988.7" cy="1099.2" r="6.1"/>
<circle cx="991.5" cy="1098.9" r="6.1"/>
<circle cx="994.4" cy="1096.8" r="6.1"/>
<circle cx="997.3" cy="1091.0" r="6.1"/>
<circle cx="1000.1" cy="1092.4" r="6.1"/>
<circle cx="1003.0" cy="1087.1" r="6.1"/>
<circle cx="1005.9" cy="1085.2" r="6.1"/>
<circle cx="1008.7" cy="1086.7" r="6.1"/>
<circle cx="1011.6" cy="1079.9" r="6.1"/>
<circle cx="1014.5" cy="1082.6" r="6.1"/>
<circle cx="1017.3" cy="1075.1" r="6.1"/>
<circle cx="1020.2" cy="1073.1" r="6.1"/>
<circle cx="1023.1" cy="1075.0" r="6.1"/>
<circle cx="1025.9" cy="1069.6" r="6.1"/>
<circle cx="1028.8" cy="1067.4" r="6.1"/>
<circle cx="1031.7" cy="1069.2" r="6.1"/>
<circle cx="1034.5" cy="1063.5" r="6.1"/>
<circle cx="1037.4" cy="1064.9" r="6.1"/>
<circle cx="1040.3" cy="1057.7" r="6.1"/>
<circle cx="1043.1" cy="1057.0" r="6.1"/>
<circle cx="1046.0" cy="1053.0" r="6.1"/>
<circle cx="1048.9" cy="1056.8" r="6.1"/>
<circle cx="1062.6" cy="1024.8" r="6.1"/>
<circle cx="1055.3" cy="1038.3" r="6.1"/>
<circle cx="1065.7" cy="1034.0" r="6.1"/>
<circle cx="1025.4" cy="1043.8" r="6.1"/>
<circle cx="1021.7" cy="1046.8" r="6.1"/>
<circle cx="1037.6" cy="1046.8" r="6.1"/>
<circle cx="1038.8" cy="1053.0" r="6.1"/>
<circle cx="1090.8" cy="1053.0" r="6.1"/>
<circle cx="1073.0" cy="1051.1" r="6.1"/>
<circle cx="1071.8" cy="1061.5" r="6.1"/>
<circle cx="1059.0" cy="1067.0" r="6.1"/>
<circle cx="1052.2" cy="1053.6" r="6.1"/>
<circle cx="1036.4" cy="1058.5" r="6.1"/>
<circle cx="966.7" cy="1082.3" r="6.1"/>
<circle cx="977.7" cy="1080.5" r="6.1"/>
<circle cx="980.1" cy="1081.7" r="6.1"/>
<circle cx="966.7" cy="1086.6" r="6.1"/>
<circle cx="978.3" cy="1090.2" r="6.1"/>
<circle cx="965.5" cy="1097.6" r="6.1"/>
<circle cx="1046.1" cy="1081.7" r="6.1"/>
<circle cx="1044.3" cy="1089.6" r="6.1"/>
<circle cx="1033.9" cy="1086.6" r="6.1"/>
<circle cx="1026.6" cy="1097.6" r="6.1"/>
<circle cx="1020.5" cy="1095.1" r="6.1"/>
<circle cx="985.6" cy="1117.8" r="6.1"/>
<circle cx="943.4" cy="1123.9" r="6.1"/>
<circle cx="963.0" cy="1128.1" r="6.1"/>
<circle cx="1009.5" cy="1069.5" r="6.1"/>
<circle cx="948.3" cy="1115.9" r="6.1"/>
<circle cx="998.5" cy="1080.5" r="6.1"/>
<circle cx="1002.1" cy="1104.3" r="6.1"/>
</g>
<path fill="#0000ff" d="M1202.3 958.0l6.4 4.7-2.45 7.5h-7.9l-2.45-7.5zM1093.8 973.0l6.4 4.7-2.45 7.5h-7.9l-2.45-7.5zM1145.0 1011.4l6.4 4.7-2.45 7.5h-7.9l-2.45-7.5zM1127.8 1009.6l6.4 4.7-2.45 7.5h-7.9l-2.45-7.5zM1121.1 1018.5l6.4 4.7-2.45 7.5h-7.9l-2.45-7.5zM950.9 1117.1l6.4 4.7-2.45 7.5h-7.9l-2.45-7.5zM951.8 1123.4l6.4 4.7-2.45 7.5h-7.9l-2.45-7.5zM952.8 1119.9l6.4 4.7-2.45 7.5h-7.9l-2.45-7.5zM953.8 1119.8l6.4 4.7-2.45 7.5h-7.9l-2.45-7.5zM954.7 1113.2l6.4 4.7-2.45 7.5h-7.9l-2.45-7.5zM955.7 1113.2l6.4 4.7-2.45 7.5h-7.9l-2.45-7.5zM956.6 1110.1l6.4 4.7-2.45 7.5h-7.9l-2.45-7.5zM957.6 1118.6l6.4 4.7-2.45 7.5h-7.9l-2.45-7.5zM958.5 1114.1l6.4 4.7-2.45 7.5h-7.9l-2.45-7.5zM959.5 1117.8l6.4 4.7-2.45 7.5h-7.9l-2.45-7.5zM960.5 1115.0l6.4 4.7-2.45 7.5h-7.9l-2.45-7.5zM961.4 1111.0l6.4 4.7-2.45 7.5h-7.9l-2.45-7.5zM962.4 1115.8l6.4 4.7-2.45 7.5h-7.9l-2.45-7.5zM963.3 1113.1l6.4 4.7-2.45 7.5h-7.9l-2.45-7.5zM964.3 1107.3l6.4 4.7-2.45 7.5h-7.9l-2.45-7.5zM965.2 1107.8l6.4 4.7-2.45 7.5h-7.9l-2.45-7.5zM966.2 1110.8l6.4 4.7-2.45 7.5h-7.9l-2.45-7.5zM967.1 1105.9l6.4 4.7-2.45 7.5h-7.9l-2.45-7.5zM968.1 1102.7l6.4 4.7-2.45 7.5h-7.9l-2.45-7.5zM969.1 1111.2l6.4 4.7-2.45 7.5h-7.9l-2.45-7.5zM970.0 1101.4l6.4 4.7-2.45 7.5h-7.9l-2.45-7.5zM971.0 1101.9l6.4 4.7-2.45 7.5h-7.9l-2.45-7.5zM971.9 1105.3l6.4 4.7-2.45 7.5h-7.9l-2.45-7.5zM972.9 1106.7l6.4 4.7-2.45 7.5h-7.9l-2.45-7.5zM973.8 1096.9l6.4 4.7-2.45 7.5h-7.9l-2.45-7.5zM974.8 1103.3l6.4 4.7-2.45 7.5h-7.9l-2.45-7.5zM975.7 1105.4l6.4 4.7-2.45 7.5h-7.9l-2.45-7.5zM976.7 1104.6l6.4 4.7-2.45 7.5h-7.9l-2.45-7.5zM977.7 1095.4l6.4 4.7-2.45 7.5h-7.9l-2.45-7.5zM978.6 1097.5l6.4 4.7-2.45 7.5h-7.9l-2.45-7.5zM979.6 1094.5l6.4 4.7-2.45 7.5h-7.9l-2.45-7.5zM980.5 1094.7l6.4 4.7-2.45 7.5h-7.9l-2.45-7.5zM981.5 1096.2l6.4 4.7-2.45 7.5h-7.9l-2.45-7.5zM982.4 1090.5l6.4 4.7-2.45 7.5h-7.9l-2.45-7.5zM983.4 1096.6l6.4 4.7-2.45 7.5h-7.9l-2.45-7.5zM984.4 1093.9l6.4 4.7-2.45 7.5h-7.9l-2.45-7.5zM985.3 1090.1l6.4 4.7-2.45 7.5h-7.9l-2.45-7.5zM986.3 1091.8l6.4 4.7-2.45 7.5h-7.9l-2.45-7.5zM987.2 1088.3l6.4 4.7-2.45 7.5h-7.9l-2.45-7.5zM988.2 1090.9l6.4 4.7-2.45 7.5h-7.9l-2.45-7.5zM989.1 1088.7l6.4 4.7-2.45 7.5h-7.9l-2.45-7.5zM990.1 1095.6l6.4 4.7-2.45 7.5h-7.9l-2.45-7.5zM991.0 1092.8l6.4 4.7-2.45 7.5h-7.9l-2.45-7.5zM992.0 1091.4l6.4 4.7-2.45 7.5h-7.9l-2.45-7.5zM993.0 1093.1l6.4 4.7-2.45 7.5h-7.9l-2.45-7.5zM993.9 1090.7l6.4 4.7-2.45 7.5h-7.9l-2.45-7.5zM994.9 1091.5l6.4 4.7-2.45 7.5h-7.9l-2.45-7.5zM995.8 1088.8l6.4 4.7-2.45 7.5h-7.9l-2.45-7.5zM996.8 1084.0l6.4 4.7-2.45 7.5h-7.9l-2.45-7.5zM997.7 1086.4l6.4 4.7-2.45 7.5h-7.9l-2.45-7.5zM998.7 1085.6l6.4 4.7-2.45 7.5h-7.9l-2.45-7.5zM999.6 1086.8l6.4 4.7-2.45 7.5h-7.9l-2.45-7.5zM1000.6 1085.4l6.4 4.7-2.45 7.5h-7.9l-2.45-7.5zM1001.6 1077.1l6.4 4.7-2.45 7.5h-7.9l-2.45-7.5zM1002.5 1079.7l6.4 4.7-2.45 7.5h-7.9l-2.45-7.5zM1003.5 1079.5l6.4 4.7-2.45 7.5h-7.9l-2.45-7.5zM1004.4 1083.8l6.4 4.7-2.45 7.5h-7.9l-2.45-7.5zM1005.4 1076.7l6.4 4.7-2.45 7.5h-7.9l-2.45-7.5zM1006.3 1082.5l6.4 4.7-2.45 7.5h-7.9l-2.45-7.5zM1007.3 1079.3l6.4 4.7-2.45 7.5h-7.9l-2.45-7.5zM1008.3 1071.7l6.4 4.7-2.45 7.5h-7.9l-2.45-7.5zM1009.2 1075.0l6.4 4.7-2.45 7.5h-7.9l-2.45-7.5zM1010.2 1075.2l6.4 4.7-2.45 7.5h-7.9l-2.45-7.5zM1011.1 1073.1l6.4 4.7-2.45 7.5h-7.9l-2.45-7.5zM1012.1 1070.6l6.4 4.7-2.45 7.5h-7.9l-2.45-7.5zM1013.0 1070.7l6.4 4.7-2.45 7.5h-7.9l-2.45-7.5zM1014.0 1076.2l6.4 4.7-2.45 7.5h-7.9l-2.45-7.5zM1014.9 1077.8l6.4 4.7-2.45 7.5h-7.9l-2.45-7.5zM1015.9 1073.8l6.4 4.7-2.45 7.5h-7.9l-2.45-7.5zM1016.9 1073.7l6.4 4.7-2.45 7.5h-7.9l-2.45-7.5zM1017.8 1073.6l6.4 4.7-2.45 7.5h-7.9l-2.45-7.5zM1018.8 1064.6l6.4 4.7-2.45 7.5h-7.9l-2.45-7.5zM1019.7 1064.7l6.4 4.7-2.45 7.5h-7.9l-2.45-7.5zM1020.7 1070.4l6.4 4.7-2.45 7.5h-7.9l-2.45-7.5zM1021.6 1065.8l6.4 4.7-2.45 7.5h-7.9l-2.45-7.5zM1022.6 1068.1l6.4 4.7-2.45 7.5h-7.9l-2.45-7.5zM1023.5 1061.5l6.4 4.7-2.45 7.5h-7.9l-2.45-7.5zM1024.5 1066.0l6.4 4.7-2.45 7.5h-7.9l-2.45-7.5zM1025.5 1067.5l6.4 4.7-2.45 7.5h-7.9l-2.45-7.5zM1026.4 1067.0l6.4 4.7-2.45 7.5h-7.9l-2.45-7.5zM1027.4 1062.8l6.4 4.7-2.45 7.5h-7.9l-2.45-7.5zM1028.3 1065.5l6.4 4.7-2.45 7.5h-7.9l-2.45-7.5zM1029.3 1061.1l6.4 4.7-2.45 7.5h-7.9l-2.45-7.5zM1030.2 1056.8l6.4 4.7-2.45 7.5h-7.9l-2.45-7.5zM1031.2 1061.8l6.4 4.7-2.45 7.5h-7.9l-2.45-7.5zM1032.2 1063.2l6.4 4.7-2.45 7.5h-7.9l-2.45-7.5zM1033.1 1053.6l6.4 4.7-2.45 7.5h-7.9l-2.45-7.5zM1034.1 1058.5l6.4 4.7-2.45 7.5h-7.9l-2.45-7.5zM1035.0 1062.6l6.4 4.7-2.45 7.5h-7.9l-2.45-7.5zM1036.0 1062.4l6.4 4.7-2.45 7.5h-7.9l-2.45-7.5zM1036.9 1061.0l6.4 4.7-2.45 7.5h-7.9l-2.45-7.5zM1037.9 1054.4l6.4 4.7-2.45 7.5h-7.9l-2.45-7.5zM1038.8 1051.8l6.4 4.7-2.45 7.5h-7.9l-2.45-7.5zM1039.8 1055.4l6.4 4.7-2.45 7.5h-7.9l-2.45-7.5zM1040.8 1058.8l6.4 4.7-2.45 7.5h-7.9l-2.45-7.5zM1041.7 1054.4l6.4 4.7-2.45 7.5h-7.9l-2.45-7.5zM1042.7 1046.8l6.4 4.7-2.45 7.5h-7.9l-2.45-7.5zM1043.6 1051.4l6.4 4.7-2.45 7.5h-7.9l-2.45-7.5zM1044.6 1045.7l6.4 4.7-2.45 7.5h-7.9l-2.45-7.5zM959.5 1121.3l6.4 4.7-2.45 7.5h-7.9l-2.45-7.5zM961.9 1118.4l6.4 4.7-2.45 7.5h-7.9l-2.45-7.5zM964.3 1117.6l6.4 4.7-2.45 7.5h-7.9l-2.45-7.5zM966.7 1115.2l6.4 4.7-2.45 7.5h-7.9l-2.45-7.5zM969.1 1113.1l6.4 4.7-2.45 7.5h-7.9l-2.45-7.5zM971.4 1111.1l6.4 4.7-2.45 7.5h-7.9l-2.45-7.5zM973.8 1109.9l6.4 4.7-2.45 7.5h-7.9l-2.45-7.5zM976.2 1108.0l6.4 4.7-2.45 7.5h-7.9l-2.45-7.5zM978.6 1107.1l6.4 4.7-2.45 7.5h-7.9l-2.45-7.5zM981.0 1104.6l6.4 4.7-2.45 7.5h-7.9l-2.45-7.5zM983.4 1102.9l6.4 4.7-2.45 7.5h-7.9l-2.45-7.5zM985.8 1100.3l6.4 4.7-2.45 7.5h-7.9l-2.45-7.5zM988.2 1099.1l6.4 4.7-2.45 7.5h-7.9l-2.45-7.5zM990.6 1096.9l6.4 4.7-2.45 7.5h-7.9l-2.45-7.5zM993.0 1095.7l6.4 4.7-2.45 7.5h-7.9l-2.45-7.5zM995.3 1094.4l6.4 4.7-2.45 7.5h-7.9l-2.45-7.5zM997.7 1091.4l6.4 4.7-2.45 7.5h-7.9l-2.45-7.5zM1000.1 1089.7l6.4 4.7-2.45 7.5h-7.9l-2.45-7.5zM1002.5 1088.7l6.4 4.7-2.45 7.5h-7.9l-2.45-7.5zM1004.9 1087.4l6.4 4.7-2.45 7.5h-7.9l-2.45-7.5zM1007.3 1084.9l6.4 4.7-2.45 7.5h-7.9l-2.45-7.5zM1009.7 1083.1l6.4 4.7-2.45 7.5h-7.9l-2.45-7.5zM1012.1 1080.9l6.4 4.7-2.45 7.5h-7.9l-2.45-7.5zM1014.5 1079.4l6.4 4.7-2.45 7.5h-7.9l-2.45-7.5zM1016.9 1077.8l6.4 4.7-2.45 7.5h-7.9l-2.45-7.5zM1019.2 1075.9l6.4 4.7-2.45 7.5h-7.9l-2.45-7.5zM1021.6 1074.4l6.4 4.7-2.45 7.5h-7.9l-2.45-7.5zM1024.0 1073.3l6.4 4.7-2.45 7.5h-7.9l-2.45-7.5zM1026.4 1071.5l6.4 4.7-2.45 7.5h-7.9l-2.45-7.5zM1028.8 1068.1l6.4 4.7-2.45 7.5h-7.9l-2.45-7.5zM1031.2 1066.5l6.4 4.7-2.45 7.5h-7.9l-2.45-7.5zM1033.6 1065.7l6.4 4.7-2.45 7.5h-7.9l-2.45-7.5zM951.8 1112.7l6.4 4.7-2.45 7.5h-7.9l-2.45-7.5zM954.7 1110.3l6.4 4.7-2.45 7.5h-7.9l-2.45-7.5zM957.6 1107.4l6.4 4.7-2.45 7.5h-7.9l-2.45-7.5zM960.5 1106.8l6.4 4.7-2.45 7.5h-7.9l-2.45-7.5zM963.3 1104.5l6.4 4.7-2.45 7.5h-7.9l-2.45-7.5zM966.2 1102.8l6.4 4.7-2.45 7.5h-7.9l-2.45-7.5zM969.1 1100.5l6.4 4.7-2.45 7.5h-7.9l-2.45-7.5zM971.9 1098.6l6.4 4.7-2.45 7.5h-7.9l-2.45-7.5zM974.8 1096.1l6.4 4.7-2.45 7.5h-7.9l-2.45-7.5zM977.7 1093.2l6.4 4.7-2.45 7.5h-7.9l-2.45-7.5zM980.5 1090.1l6.4 4.7-2.45 7.5h-7.9l-2.45-7.5zM983.4 1088.6l6.4 4.7-2.45 7.5h-7.9l-2.45-7.5zM986.3 1087.1l6.4 4.7-2.45 7.5h-7.9l-2.45-7.5zM989.1 1084.9l6.4 4.7-2.45 7.5h-7.9l-2.45-7.5zM992.0 1082.2l6.4 4.7-2.45 7.5h-7.9l-2.45-7.5zM994.9 1080.8l6.4 4.7-2.45 7.5h-7.9l-2.45-7.5zM997.7 1079.2l6.4 4.7-2.45 7.5h-7.9l-2.45-7.5zM1000.6 1075.5l6.4 4.7-2.45 7.5h-7.9l-2.45-7.5zM1003.5 1073.8l6.4 4.7-2.45 7.5h-7.9l-2.45-7.5zM1006.3 1072.7l6.4 4.7-2.45 7.5h-7.9l-2.45-7.5zM1009.2 1070.7l6.4 4.7-2.45 7.5h-7.9l-2.45-7.5zM1061.4 1020.7l6.4 4.7-2.45 7.5h-7.9l-2.45-7.5zM1090.8 1016.4l6.4 4.7-2.45 7.5h-7.9l-2.45-7.5zM1121.9 1018.9l6.4 4.7-2.45 7.5h-7.9l-2.45-7.5zM1128.0 1009.7l6.4 4.7-2.45 7.5h-7.9l-2.45-7.5zM1085.9 1042.1l6.4 4.7-2.45 7.5h-7.9l-2.45-7.5zM1064.5 1053.1l6.4 4.7-2.45 7.5h-7.9l-2.45-7.5zM1037.6 1054.3l6.4 4.7-2.45 7.5h-7.9l-2.45-7.5zM1022.9 1058.0l6.4 4.7-2.45 7.5h-7.9l-2.45-7.5zM1019.2 1061.0l6.4 4.7-2.45 7.5h-7.9l-2.45-7.5zM996.6 1061.0l6.4 4.7-2.45 7.5h-7.9l-2.45-7.5zM1004.0 1058.6l6.4 4.7-2.45 7.5h-7.9l-2.45-7.5zM1048.6 1061.0l6.4 4.7-2.45 7.5h-7.9l-2.45-7.5zM1005.8 1071.4l6.4 4.7-2.45 7.5h-7.9l-2.45-7.5zM989.9 1082.4l6.4 4.7-2.45 7.5h-7.9l-2.45-7.5zM971.6 1090.4l6.4 4.7-2.45 7.5h-7.9l-2.45-7.5zM955.1 1103.2l6.4 4.7-2.45 7.5h-7.9l-2.45-7.5zM970.3 1116.7l6.4 4.7-2.45 7.5h-7.9l-2.45-7.5zM953.2 1120.9l6.4 4.7-2.45 7.5h-7.9l-2.45-7.5zM1009.5 1091.0l6.4 4.7-2.45 7.5h-7.9l-2.45-7.5zM1037.6 1069.0l6.4 4.7-2.45 7.5h-7.9l-2.45-7.5zM993.6 1100.1l6.4 4.7-2.45 7.5h-7.9l-2.45-7.5z"/>
<line x1="945.6" y1="1121.6" x2="1582.8" y2="770.3" stroke="#f0a0ff" stroke-width="2.6"/>
<line x1="949.5" y1="1125.1" x2="1202.3" y2="959.3" stroke="#00f000" stroke-width="3.0"/>
<line x1="920.3" y1="1149.7" x2="1613.4" y2="633.6" stroke="#00ffff" stroke-width="3.1"/>
<rect class="ax" x="920.6" y="616.4" width="716.7" height="533.6"/>
<path class="tk" d="M944.2 1150.0v9.0M920.6 1131.9h-9.0M992.0 1150.0v5.2M920.6 1096.3h-5.2M1039.8 1150.0v9.0M920.6 1060.7h-9.0M1087.6 1150.0v5.2M920.6 1025.1h-5.2M1135.4 1150.0v9.0M920.6 989.5h-9.0M1183.2 1150.0v5.2M920.6 954.0h-5.2M1231.0 1150.0v9.0M920.6 918.4h-9.0M1278.8 1150.0v5.2M920.6 882.8h-5.2M1326.6 1150.0v9.0M920.6 847.2h-9.0M1374.4 1150.0v5.2M920.6 811.6h-5.2M1422.2 1150.0v9.0M920.6 776.0h-9.0M1470.0 1150.0v5.2M920.6 740.4h-5.2M1517.8 1150.0v9.0M920.6 704.8h-9.0M1565.6 1150.0v5.2M920.6 669.2h-5.2M1613.4 1150.0v9.0M920.6 633.6h-9.0"/>
<g class="tl" style="font-size:18.6px">
<text transform="translate(944.9 1179.6) scale(1 1.06)" text-anchor="middle">0</text>
<text transform="translate(1040.5 1179.6) scale(1 1.06)" text-anchor="middle">20</text>
<text transform="translate(1136.1 1179.6) scale(1 1.06)" text-anchor="middle">40</text>
<text transform="translate(1231.7 1179.6) scale(1 1.06)" text-anchor="middle">60</text>
<text transform="translate(1327.3 1179.6) scale(1 1.06)" text-anchor="middle">80</text>
<text transform="translate(1422.9 1179.6) scale(1 1.06)" text-anchor="middle">100</text>
<text transform="translate(1518.5 1179.6) scale(1 1.06)" text-anchor="middle">120</text>
<text transform="translate(1614.1 1179.6) scale(1 1.06)" text-anchor="middle">140</text>
<text transform="translate(904.2 1137.7) scale(1 1.06)" text-anchor="end">0</text>
<text transform="translate(904.2 1066.5) scale(1 1.06)" text-anchor="end">20</text>
<text transform="translate(904.2 995.3) scale(1 1.06)" text-anchor="end">40</text>
<text transform="translate(904.2 924.2) scale(1 1.06)" text-anchor="end">60</text>
<text transform="translate(904.2 853.0) scale(1 1.06)" text-anchor="end">80</text>
<text transform="translate(904.2 781.8) scale(1 1.06)" text-anchor="end">100</text>
<text transform="translate(904.2 710.6) scale(1 1.06)" text-anchor="end">120</text>
<text transform="translate(904.2 639.4) scale(1 1.06)" text-anchor="end">140</text>
</g>
<text class="at" font-size="21.5" x="1279.4" y="1219.1" text-anchor="middle">Experimental Dnssm (x10<tspan font-size="15.48" dy="-9.68">-12</tspan><tspan dy="9.68">m</tspan><tspan font-size="15.48" dy="-9.68">2</tspan><tspan dy="9.68">/s)</tspan></text>
<text class="at" font-size="21.7" transform="translate(866.0 881.8) rotate(-90) scale(1 1.0)" text-anchor="middle">SVR-FFA prdicted Dnssm (x10<tspan font-size="15.62" dy="-9.77">-12</tspan><tspan dy="9.77">m</tspan><tspan font-size="15.62" dy="-9.77">2</tspan><tspan dy="9.77">/s)</tspan></text>
<rect x="929.7" y="627.6" width="261.1" height="111.1" fill="#fff" stroke="#000" stroke-width="3.3"/>
<circle cx="951.7" cy="639.6" r="6.1" fill="url(#og)"/>
<path fill="#0000ff" d="M951.7 655.0l6.4 4.7-2.45 7.5h-7.9l-2.45-7.5z"/>
<line x1="931.7" y1="683.1" x2="971.0" y2="683.1" stroke="#f0a0ff" stroke-width="2.6"/>
<line x1="931.7" y1="705.1" x2="971.0" y2="705.1" stroke="#00f000" stroke-width="3.0"/>
<line x1="931.7" y1="726.9" x2="971.0" y2="726.9" stroke="#00ffff" stroke-width="3.1"/>
<g class="lg">
<text transform="translate(976.4 645.9) scale(1 1.07)">Training datapoints</text>
<text transform="translate(976.4 667.8) scale(1 1.07)">Testing datapoints</text>
<text transform="translate(976.4 689.8) scale(1 1.07)">y = 0.84x + 2.81 (Training fit)</text>
<text transform="translate(976.4 711.6) scale(1 1.07)">y = 0.88x + 0.96 (Testing fit)</text>
<text transform="translate(976.4 733.4) scale(1 1.07)">y = x (Ideal fit)</text>
</g>
</g>
</svg>
</body></html>
